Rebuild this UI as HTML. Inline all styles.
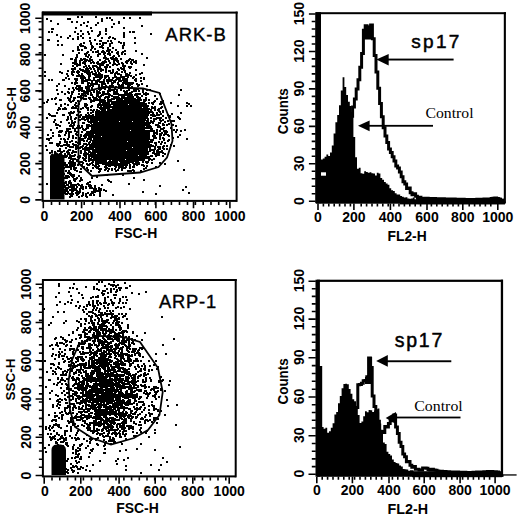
<!DOCTYPE html>
<html><head><meta charset="utf-8"><style>
html,body{margin:0;padding:0;background:#fff;}
svg{display:block;}
</style></head><body>
<svg width="520" height="516" viewBox="0 0 520 516">
<rect width="520" height="516" fill="#fff"/>
<path d="M44 103h0M45 55h0M45 72h0M45 76h0M46 146h0M47 19h0M47 102h0M47 118h0M47 139h0M47 150h0M47 184h0M48 40h0M48 100h0M48 135h0M48 139h0M49 32h0M49 40h0M49 80h0M49 114h0M49 139h0M49 140h0M50 115h0M50 143h0M50 153h0M51 21h0M51 130h0M51 138h0M51 162h0M52 29h0M52 32h0M52 80h0M52 99h0M52 116h0M52 143h0M52 151h0M52 152h0M52 161h0M53 29h0M53 116h0M53 133h0M53 136h0M53 157h0M53 175h0M54 122h0M55 99h0M55 116h0M55 120h0M55 152h0M55 154h0M55 156h0M55 159h0M56 98h0M56 104h0M56 124h0M56 125h0M57 35h0M57 86h0M57 90h0M57 113h0M57 128h0M57 144h0M57 145h0M57 168h0M58 24h0M58 41h0M58 45h0M58 94h0M58 110h0M58 125h0M58 144h0M58 145h0M58 146h0M58 151h0M59 84h0M59 108h0M59 132h0M59 135h0M59 136h0M59 145h0M59 156h0M59 157h0M59 177h0M60 72h0M60 100h0M60 109h0M60 126h0M60 131h0M60 136h0M60 142h0M60 143h0M60 149h0M60 151h0M60 154h0M60 156h0M60 160h0M60 164h0M60 166h0M60 172h0M60 182h0M60 190h0M60 195h0M61 37h0M61 64h0M61 100h0M61 105h0M61 106h0M61 122h0M61 132h0M61 139h0M61 146h0M61 153h0M61 178h0M61 180h0M61 190h0M61 193h0M62 45h0M62 73h0M62 92h0M62 131h0M62 146h0M62 152h0M62 158h0M62 160h0M62 169h0M62 171h0M62 183h0M62 191h0M62 194h0M62 195h0M62 197h0M63 55h0M63 80h0M63 109h0M63 115h0M63 158h0M63 159h0M63 169h0M63 172h0M63 176h0M63 189h0M63 192h0M63 195h0M64 80h0M64 109h0M64 115h0M64 139h0M64 145h0M64 151h0M64 156h0M64 163h0M64 168h0M64 174h0M64 184h0M64 190h0M64 191h0M64 193h0M65 86h0M65 94h0M65 104h0M65 108h0M65 135h0M65 140h0M65 142h0M65 154h0M65 157h0M65 163h0M65 165h0M65 178h0M65 183h0M65 186h0M65 187h0M65 190h0M65 191h0M65 193h0M66 78h0M66 109h0M66 132h0M66 133h0M66 145h0M66 148h0M66 156h0M66 157h0M66 167h0M66 171h0M66 176h0M66 182h0M66 183h0M66 188h0M66 189h0M66 191h0M66 194h0M67 74h0M67 120h0M67 129h0M67 131h0M67 142h0M67 144h0M67 145h0M67 152h0M67 156h0M67 165h0M67 176h0M67 177h0M67 178h0M67 185h0M67 188h0M67 189h0M67 191h0M67 194h0M68 19h0M68 38h0M68 71h0M68 76h0M68 92h0M68 98h0M68 105h0M68 117h0M68 119h0M68 129h0M68 131h0M68 139h0M68 146h0M68 151h0M68 154h0M68 167h0M68 173h0M68 176h0M68 185h0M68 188h0M68 192h0M68 193h0M69 79h0M69 89h0M69 93h0M69 100h0M69 113h0M69 123h0M69 133h0M69 135h0M69 137h0M69 145h0M69 150h0M69 153h0M69 158h0M69 163h0M69 167h0M69 171h0M69 172h0M69 177h0M69 182h0M69 183h0M69 187h0M70 19h0M70 36h0M70 99h0M70 101h0M70 113h0M70 115h0M70 126h0M70 129h0M70 132h0M70 142h0M70 147h0M70 150h0M70 155h0M70 157h0M70 158h0M70 161h0M70 162h0M70 165h0M70 173h0M70 174h0M70 181h0M70 187h0M70 190h0M70 194h0M70 197h0M71 59h0M71 96h0M71 97h0M71 102h0M71 112h0M71 113h0M71 117h0M71 119h0M71 125h0M71 132h0M71 147h0M71 156h0M71 158h0M71 159h0M71 162h0M71 163h0M71 164h0M71 166h0M71 167h0M71 169h0M71 174h0M71 175h0M71 183h0M71 185h0M71 195h0M71 196h0M72 22h0M72 59h0M72 69h0M72 72h0M72 74h0M72 83h0M72 92h0M72 94h0M72 108h0M72 121h0M72 123h0M72 126h0M72 141h0M72 153h0M72 156h0M72 162h0M72 163h0M72 166h0M72 176h0M72 185h0M72 187h0M72 189h0M72 190h0M72 191h0M72 192h0M72 193h0M72 195h0M72 196h0M73 39h0M73 51h0M73 63h0M73 66h0M73 71h0M73 75h0M73 88h0M73 92h0M73 101h0M73 107h0M73 113h0M73 127h0M73 128h0M73 136h0M73 138h0M73 144h0M73 147h0M73 151h0M73 159h0M73 161h0M73 162h0M73 164h0M73 165h0M73 175h0M73 177h0M73 186h0M73 190h0M73 191h0M73 194h0M74 63h0M74 69h0M74 72h0M74 90h0M74 98h0M74 100h0M74 108h0M74 112h0M74 123h0M74 125h0M74 145h0M74 152h0M74 156h0M74 166h0M74 167h0M74 169h0M74 175h0M74 176h0M74 179h0M74 180h0M74 185h0M74 186h0M74 187h0M74 188h0M74 190h0M75 32h0M75 60h0M75 61h0M75 64h0M75 68h0M75 69h0M75 79h0M75 83h0M75 84h0M75 98h0M75 105h0M75 119h0M75 122h0M75 129h0M75 131h0M75 155h0M75 159h0M75 163h0M75 165h0M75 169h0M75 170h0M75 179h0M75 181h0M75 185h0M75 189h0M76 28h0M76 58h0M76 60h0M76 61h0M76 62h0M76 63h0M76 81h0M76 88h0M76 103h0M76 107h0M76 108h0M76 118h0M76 134h0M76 138h0M76 142h0M76 145h0M76 147h0M76 149h0M76 152h0M76 168h0M76 179h0M76 185h0M76 189h0M76 190h0M76 193h0M77 22h0M77 55h0M77 57h0M77 64h0M77 66h0M77 72h0M77 76h0M77 79h0M77 80h0M77 83h0M77 86h0M77 89h0M77 106h0M77 115h0M77 128h0M77 132h0M77 135h0M77 146h0M77 148h0M77 160h0M77 161h0M77 171h0M77 178h0M77 187h0M77 191h0M77 195h0M78 17h0M78 34h0M78 37h0M78 39h0M78 47h0M78 49h0M78 50h0M78 65h0M78 71h0M78 73h0M78 76h0M78 97h0M78 101h0M78 109h0M78 110h0M78 111h0M78 126h0M78 128h0M78 143h0M78 146h0M78 157h0M78 165h0M78 184h0M78 192h0M78 194h0M79 50h0M79 53h0M79 65h0M79 72h0M79 75h0M79 76h0M79 86h0M79 88h0M79 89h0M79 90h0M79 91h0M79 94h0M79 97h0M79 104h0M79 120h0M79 126h0M79 140h0M79 144h0M79 158h0M79 164h0M79 176h0M79 185h0M79 192h0M79 193h0M79 197h0M80 45h0M80 61h0M80 62h0M80 63h0M80 65h0M80 69h0M80 76h0M80 86h0M80 87h0M80 112h0M80 116h0M80 117h0M80 120h0M80 128h0M80 138h0M80 141h0M80 143h0M80 144h0M80 148h0M80 156h0M80 157h0M80 162h0M80 172h0M80 181h0M80 189h0M80 190h0M80 191h0M80 192h0M81 25h0M81 31h0M81 36h0M81 44h0M81 46h0M81 59h0M81 60h0M81 70h0M81 76h0M81 78h0M81 88h0M81 90h0M81 96h0M81 97h0M81 98h0M81 109h0M81 115h0M81 135h0M81 136h0M81 139h0M81 147h0M81 151h0M81 153h0M81 169h0M81 172h0M81 178h0M81 179h0M81 186h0M81 188h0M82 17h0M82 50h0M82 60h0M82 74h0M82 76h0M82 77h0M82 79h0M82 81h0M82 83h0M82 88h0M82 89h0M82 91h0M82 94h0M82 119h0M82 126h0M82 127h0M82 132h0M82 140h0M82 147h0M82 162h0M82 165h0M82 180h0M82 185h0M82 196h0M83 34h0M83 38h0M83 46h0M83 63h0M83 70h0M83 71h0M83 76h0M83 80h0M83 82h0M83 83h0M83 91h0M83 95h0M83 98h0M83 108h0M83 117h0M83 123h0M83 129h0M83 139h0M83 146h0M83 149h0M83 158h0M83 163h0M83 187h0M83 189h0M83 193h0M83 195h0M84 23h0M84 43h0M84 59h0M84 62h0M84 67h0M84 71h0M84 77h0M84 78h0M84 81h0M84 91h0M84 93h0M84 99h0M84 117h0M84 118h0M84 119h0M84 123h0M84 130h0M84 136h0M84 141h0M84 144h0M84 154h0M84 155h0M84 160h0M84 167h0M85 47h0M85 48h0M85 54h0M85 59h0M85 61h0M85 63h0M85 64h0M85 72h0M85 78h0M85 81h0M85 99h0M85 104h0M85 106h0M85 117h0M85 120h0M85 130h0M85 135h0M85 137h0M85 138h0M85 148h0M85 150h0M85 152h0M85 156h0M85 159h0M85 160h0M86 48h0M86 55h0M86 56h0M86 61h0M86 66h0M86 69h0M86 70h0M86 80h0M86 87h0M86 88h0M86 92h0M86 96h0M86 99h0M86 104h0M86 107h0M86 115h0M86 129h0M86 134h0M86 137h0M86 144h0M86 147h0M86 149h0M86 153h0M86 155h0M86 157h0M86 158h0M86 161h0M86 187h0M86 188h0M86 194h0M86 196h0M87 26h0M87 53h0M87 60h0M87 68h0M87 71h0M87 73h0M87 81h0M87 88h0M87 90h0M87 93h0M87 105h0M87 108h0M87 116h0M87 117h0M87 118h0M87 119h0M87 125h0M87 127h0M87 128h0M87 132h0M87 133h0M87 135h0M87 141h0M87 145h0M87 150h0M87 164h0M87 168h0M87 184h0M87 197h0M88 22h0M88 32h0M88 52h0M88 57h0M88 69h0M88 71h0M88 74h0M88 80h0M88 83h0M88 85h0M88 86h0M88 88h0M88 92h0M88 94h0M88 108h0M88 109h0M88 110h0M88 113h0M88 119h0M88 121h0M88 126h0M88 127h0M88 128h0M88 133h0M88 135h0M88 139h0M88 148h0M88 149h0M88 150h0M88 154h0M88 165h0M88 170h0M88 183h0M88 184h0M88 193h0M89 34h0M89 55h0M89 61h0M89 66h0M89 71h0M89 72h0M89 74h0M89 76h0M89 78h0M89 83h0M89 87h0M89 89h0M89 98h0M89 115h0M89 117h0M89 118h0M89 122h0M89 125h0M89 132h0M89 137h0M89 138h0M89 143h0M89 144h0M89 148h0M89 150h0M89 152h0M89 155h0M89 156h0M89 158h0M89 159h0M89 160h0M89 161h0M89 165h0M89 186h0M90 38h0M90 41h0M90 59h0M90 60h0M90 61h0M90 68h0M90 73h0M90 74h0M90 75h0M90 76h0M90 80h0M90 86h0M90 91h0M90 98h0M90 99h0M90 118h0M90 126h0M90 132h0M90 134h0M90 135h0M90 138h0M90 139h0M90 142h0M90 146h0M90 148h0M90 152h0M90 164h0M90 182h0M90 185h0M90 188h0M90 195h0M91 28h0M91 43h0M91 44h0M91 50h0M91 57h0M91 63h0M91 69h0M91 84h0M91 93h0M91 95h0M91 100h0M91 102h0M91 107h0M91 110h0M91 113h0M91 116h0M91 117h0M91 119h0M91 120h0M91 121h0M91 122h0M91 123h0M91 126h0M91 131h0M91 135h0M91 137h0M91 139h0M91 140h0M91 145h0M91 149h0M91 153h0M91 154h0M91 156h0M91 159h0M91 160h0M91 171h0M91 186h0M91 194h0M91 195h0M92 31h0M92 46h0M92 48h0M92 60h0M92 72h0M92 81h0M92 82h0M92 84h0M92 85h0M92 88h0M92 90h0M92 95h0M92 101h0M92 106h0M92 118h0M92 119h0M92 120h0M92 122h0M92 125h0M92 126h0M92 128h0M92 129h0M92 130h0M92 132h0M92 133h0M92 134h0M92 136h0M92 144h0M92 146h0M92 147h0M92 148h0M92 154h0M92 155h0M92 156h0M92 157h0M92 163h0M92 178h0M92 188h0M92 192h0M93 47h0M93 52h0M93 62h0M93 66h0M93 67h0M93 74h0M93 84h0M93 86h0M93 90h0M93 97h0M93 111h0M93 112h0M93 115h0M93 116h0M93 117h0M93 118h0M93 121h0M93 125h0M93 126h0M93 127h0M93 128h0M93 129h0M93 130h0M93 135h0M93 137h0M93 141h0M93 142h0M93 144h0M93 145h0M93 146h0M93 147h0M93 148h0M93 149h0M93 150h0M93 152h0M93 153h0M93 154h0M93 155h0M93 157h0M93 160h0M93 161h0M93 162h0M93 165h0M93 168h0M93 193h0M94 63h0M94 66h0M94 69h0M94 78h0M94 79h0M94 80h0M94 91h0M94 92h0M94 98h0M94 99h0M94 101h0M94 110h0M94 117h0M94 119h0M94 121h0M94 123h0M94 124h0M94 126h0M94 128h0M94 131h0M94 133h0M94 137h0M94 139h0M94 141h0M94 143h0M94 145h0M94 146h0M94 147h0M94 150h0M94 152h0M94 154h0M94 156h0M94 158h0M94 159h0M94 160h0M94 189h0M94 191h0M94 195h0M95 40h0M95 49h0M95 66h0M95 71h0M95 74h0M95 75h0M95 84h0M95 99h0M95 118h0M95 119h0M95 121h0M95 122h0M95 123h0M95 126h0M95 127h0M95 129h0M95 131h0M95 132h0M95 133h0M95 136h0M95 139h0M95 140h0M95 141h0M95 144h0M95 145h0M95 146h0M95 147h0M95 151h0M95 152h0M95 153h0M95 154h0M95 157h0M95 166h0M95 186h0M95 188h0M95 189h0M95 192h0M96 17h0M96 25h0M96 52h0M96 66h0M96 73h0M96 74h0M96 76h0M96 77h0M96 81h0M96 83h0M96 98h0M96 100h0M96 112h0M96 114h0M96 115h0M96 116h0M96 118h0M96 120h0M96 122h0M96 123h0M96 124h0M96 126h0M96 128h0M96 129h0M96 130h0M96 134h0M96 136h0M96 137h0M96 140h0M96 141h0M96 143h0M96 144h0M96 147h0M96 148h0M96 150h0M96 151h0M96 152h0M96 155h0M96 157h0M96 158h0M96 159h0M96 161h0M96 162h0M96 163h0M96 165h0M96 167h0M96 189h0M96 191h0M97 44h0M97 63h0M97 67h0M97 76h0M97 77h0M97 82h0M97 84h0M97 91h0M97 93h0M97 94h0M97 96h0M97 99h0M97 110h0M97 112h0M97 114h0M97 117h0M97 118h0M97 120h0M97 121h0M97 122h0M97 123h0M97 126h0M97 127h0M97 128h0M97 129h0M97 130h0M97 131h0M97 133h0M97 134h0M97 135h0M97 137h0M97 138h0M97 139h0M97 140h0M97 141h0M97 142h0M97 143h0M97 144h0M97 145h0M97 147h0M97 148h0M97 149h0M97 151h0M97 152h0M97 157h0M97 160h0M97 161h0M97 162h0M97 163h0M97 168h0M97 177h0M97 191h0M98 23h0M98 36h0M98 51h0M98 52h0M98 55h0M98 56h0M98 62h0M98 64h0M98 68h0M98 69h0M98 70h0M98 71h0M98 75h0M98 76h0M98 77h0M98 80h0M98 94h0M98 96h0M98 100h0M98 105h0M98 107h0M98 115h0M98 116h0M98 117h0M98 119h0M98 120h0M98 123h0M98 124h0M98 126h0M98 127h0M98 128h0M98 129h0M98 130h0M98 131h0M98 134h0M98 135h0M98 136h0M98 139h0M98 140h0M98 143h0M98 144h0M98 145h0M98 147h0M98 149h0M98 151h0M98 152h0M98 153h0M98 154h0M98 155h0M98 156h0M98 157h0M98 158h0M98 159h0M98 160h0M98 163h0M98 164h0M98 167h0M98 191h0M99 35h0M99 54h0M99 68h0M99 73h0M99 80h0M99 81h0M99 85h0M99 87h0M99 88h0M99 89h0M99 92h0M99 97h0M99 104h0M99 111h0M99 112h0M99 113h0M99 114h0M99 115h0M99 116h0M99 117h0M99 118h0M99 120h0M99 123h0M99 124h0M99 127h0M99 128h0M99 129h0M99 131h0M99 133h0M99 134h0M99 136h0M99 137h0M99 138h0M99 139h0M99 141h0M99 142h0M99 143h0M99 144h0M99 145h0M99 146h0M99 147h0M99 148h0M99 149h0M99 150h0M99 152h0M99 153h0M99 154h0M99 156h0M99 157h0M99 158h0M99 159h0M99 161h0M99 163h0M99 166h0M99 169h0M99 172h0M99 188h0M99 189h0M100 32h0M100 34h0M100 41h0M100 44h0M100 47h0M100 54h0M100 60h0M100 64h0M100 66h0M100 67h0M100 69h0M100 74h0M100 75h0M100 77h0M100 79h0M100 82h0M100 89h0M100 90h0M100 93h0M100 98h0M100 99h0M100 100h0M100 101h0M100 103h0M100 104h0M100 105h0M100 108h0M100 112h0M100 113h0M100 114h0M100 116h0M100 117h0M100 120h0M100 121h0M100 122h0M100 125h0M100 126h0M100 127h0M100 128h0M100 129h0M100 130h0M100 131h0M100 132h0M100 133h0M100 134h0M100 135h0M100 137h0M100 139h0M100 141h0M100 142h0M100 143h0M100 148h0M100 149h0M100 150h0M100 151h0M100 152h0M100 153h0M100 154h0M100 156h0M100 158h0M100 160h0M100 161h0M100 162h0M100 171h0M100 191h0M100 192h0M100 194h0M100 196h0M101 41h0M101 47h0M101 64h0M101 69h0M101 70h0M101 71h0M101 76h0M101 78h0M101 82h0M101 89h0M101 96h0M101 100h0M101 105h0M101 107h0M101 109h0M101 112h0M101 113h0M101 114h0M101 115h0M101 117h0M101 118h0M101 119h0M101 120h0M101 121h0M101 123h0M101 124h0M101 125h0M101 127h0M101 128h0M101 129h0M101 132h0M101 134h0M101 139h0M101 140h0M101 141h0M101 142h0M101 143h0M101 144h0M101 145h0M101 146h0M101 147h0M101 149h0M101 150h0M101 151h0M101 152h0M101 153h0M101 154h0M101 156h0M101 157h0M101 158h0M101 159h0M101 161h0M101 163h0M101 169h0M101 189h0M101 190h0M102 19h0M102 21h0M102 38h0M102 46h0M102 47h0M102 52h0M102 63h0M102 65h0M102 75h0M102 77h0M102 82h0M102 84h0M102 86h0M102 95h0M102 102h0M102 105h0M102 109h0M102 111h0M102 112h0M102 113h0M102 114h0M102 115h0M102 116h0M102 117h0M102 119h0M102 120h0M102 121h0M102 122h0M102 123h0M102 124h0M102 125h0M102 126h0M102 127h0M102 128h0M102 129h0M102 130h0M102 131h0M102 132h0M102 133h0M102 134h0M102 135h0M102 138h0M102 139h0M102 140h0M102 142h0M102 143h0M102 144h0M102 145h0M102 146h0M102 147h0M102 151h0M102 152h0M102 153h0M102 155h0M102 157h0M102 158h0M102 159h0M102 162h0M102 185h0M103 43h0M103 45h0M103 48h0M103 51h0M103 62h0M103 65h0M103 70h0M103 88h0M103 92h0M103 94h0M103 95h0M103 100h0M103 102h0M103 103h0M103 105h0M103 108h0M103 109h0M103 111h0M103 112h0M103 113h0M103 114h0M103 115h0M103 117h0M103 119h0M103 122h0M103 124h0M103 125h0M103 126h0M103 128h0M103 130h0M103 132h0M103 134h0M103 135h0M103 137h0M103 138h0M103 139h0M103 140h0M103 142h0M103 143h0M103 146h0M103 147h0M103 149h0M103 150h0M103 152h0M103 153h0M103 155h0M103 156h0M103 157h0M103 158h0M103 159h0M103 160h0M103 164h0M104 43h0M104 52h0M104 54h0M104 58h0M104 63h0M104 80h0M104 81h0M104 83h0M104 84h0M104 87h0M104 92h0M104 100h0M104 102h0M104 103h0M104 105h0M104 106h0M104 107h0M104 109h0M104 111h0M104 112h0M104 113h0M104 115h0M104 116h0M104 117h0M104 118h0M104 119h0M104 121h0M104 122h0M104 123h0M104 124h0M104 125h0M104 127h0M104 128h0M104 132h0M104 134h0M104 135h0M104 136h0M104 137h0M104 138h0M104 139h0M104 140h0M104 142h0M104 143h0M104 144h0M104 145h0M104 146h0M104 147h0M104 148h0M104 149h0M104 151h0M104 152h0M104 154h0M104 157h0M104 158h0M104 160h0M104 162h0M104 190h0M105 53h0M105 56h0M105 57h0M105 61h0M105 67h0M105 76h0M105 78h0M105 84h0M105 89h0M105 94h0M105 98h0M105 101h0M105 102h0M105 103h0M105 104h0M105 105h0M105 106h0M105 107h0M105 108h0M105 110h0M105 112h0M105 113h0M105 114h0M105 115h0M105 116h0M105 120h0M105 121h0M105 122h0M105 124h0M105 129h0M105 131h0M105 132h0M105 133h0M105 134h0M105 135h0M105 136h0M105 138h0M105 139h0M105 141h0M105 142h0M105 143h0M105 144h0M105 145h0M105 146h0M105 147h0M105 148h0M105 150h0M105 151h0M105 152h0M105 153h0M105 154h0M105 155h0M105 156h0M105 157h0M105 158h0M105 159h0M105 160h0M105 163h0M105 164h0M105 167h0M105 170h0M106 29h0M106 31h0M106 34h0M106 43h0M106 58h0M106 59h0M106 62h0M106 67h0M106 69h0M106 71h0M106 72h0M106 77h0M106 86h0M106 97h0M106 103h0M106 106h0M106 107h0M106 108h0M106 112h0M106 113h0M106 114h0M106 116h0M106 117h0M106 118h0M106 119h0M106 120h0M106 121h0M106 123h0M106 125h0M106 126h0M106 127h0M106 128h0M106 129h0M106 132h0M106 133h0M106 135h0M106 137h0M106 138h0M106 139h0M106 140h0M106 141h0M106 142h0M106 143h0M106 144h0M106 145h0M106 146h0M106 148h0M106 151h0M106 152h0M106 155h0M106 156h0M106 157h0M106 159h0M106 160h0M106 161h0M106 162h0M106 163h0M106 165h0M106 166h0M106 169h0M106 191h0M107 18h0M107 51h0M107 65h0M107 67h0M107 76h0M107 80h0M107 81h0M107 94h0M107 97h0M107 103h0M107 104h0M107 105h0M107 107h0M107 108h0M107 112h0M107 113h0M107 114h0M107 117h0M107 118h0M107 119h0M107 122h0M107 123h0M107 124h0M107 125h0M107 126h0M107 128h0M107 130h0M107 131h0M107 132h0M107 133h0M107 134h0M107 135h0M107 137h0M107 138h0M107 139h0M107 140h0M107 141h0M107 142h0M107 143h0M107 144h0M107 145h0M107 146h0M107 147h0M107 148h0M107 149h0M107 151h0M107 152h0M107 153h0M107 156h0M107 158h0M107 159h0M107 163h0M107 164h0M107 165h0M107 168h0M107 175h0M108 41h0M108 48h0M108 50h0M108 54h0M108 59h0M108 65h0M108 76h0M108 83h0M108 91h0M108 93h0M108 94h0M108 99h0M108 101h0M108 102h0M108 104h0M108 106h0M108 107h0M108 108h0M108 110h0M108 113h0M108 114h0M108 115h0M108 116h0M108 117h0M108 118h0M108 119h0M108 120h0M108 122h0M108 123h0M108 125h0M108 126h0M108 127h0M108 128h0M108 129h0M108 130h0M108 131h0M108 132h0M108 133h0M108 134h0M108 135h0M108 136h0M108 137h0M108 140h0M108 141h0M108 142h0M108 143h0M108 145h0M108 146h0M108 148h0M108 150h0M108 151h0M108 153h0M108 155h0M108 156h0M108 158h0M108 159h0M108 163h0M108 164h0M108 165h0M108 171h0M108 180h0M109 38h0M109 52h0M109 53h0M109 61h0M109 71h0M109 78h0M109 80h0M109 81h0M109 89h0M109 94h0M109 95h0M109 97h0M109 102h0M109 103h0M109 104h0M109 105h0M109 106h0M109 107h0M109 108h0M109 109h0M109 110h0M109 111h0M109 112h0M109 113h0M109 115h0M109 116h0M109 117h0M109 119h0M109 120h0M109 122h0M109 123h0M109 127h0M109 128h0M109 130h0M109 131h0M109 132h0M109 134h0M109 135h0M109 137h0M109 139h0M109 143h0M109 146h0M109 147h0M109 148h0M109 149h0M109 150h0M109 151h0M109 153h0M109 154h0M109 155h0M109 156h0M109 158h0M109 159h0M109 162h0M109 164h0M109 166h0M109 169h0M109 181h0M110 18h0M110 37h0M110 44h0M110 45h0M110 46h0M110 50h0M110 54h0M110 55h0M110 63h0M110 67h0M110 71h0M110 80h0M110 86h0M110 87h0M110 89h0M110 91h0M110 95h0M110 100h0M110 105h0M110 106h0M110 110h0M110 113h0M110 114h0M110 115h0M110 117h0M110 120h0M110 121h0M110 122h0M110 123h0M110 124h0M110 126h0M110 127h0M110 128h0M110 130h0M110 131h0M110 132h0M110 135h0M110 136h0M110 137h0M110 139h0M110 140h0M110 141h0M110 142h0M110 144h0M110 145h0M110 146h0M110 147h0M110 148h0M110 149h0M110 150h0M110 151h0M110 152h0M110 154h0M110 155h0M110 156h0M110 157h0M110 160h0M110 161h0M110 164h0M110 166h0M111 41h0M111 58h0M111 73h0M111 81h0M111 87h0M111 90h0M111 101h0M111 107h0M111 110h0M111 111h0M111 112h0M111 115h0M111 116h0M111 118h0M111 119h0M111 121h0M111 122h0M111 123h0M111 124h0M111 125h0M111 126h0M111 128h0M111 129h0M111 130h0M111 131h0M111 132h0M111 133h0M111 135h0M111 136h0M111 137h0M111 138h0M111 139h0M111 140h0M111 141h0M111 142h0M111 143h0M111 144h0M111 146h0M111 147h0M111 149h0M111 150h0M111 151h0M111 152h0M111 153h0M111 155h0M111 156h0M111 159h0M111 162h0M111 163h0M111 164h0M111 182h0M112 20h0M112 27h0M112 43h0M112 52h0M112 59h0M112 73h0M112 80h0M112 83h0M112 85h0M112 87h0M112 96h0M112 99h0M112 102h0M112 103h0M112 104h0M112 107h0M112 110h0M112 111h0M112 113h0M112 114h0M112 116h0M112 118h0M112 119h0M112 120h0M112 122h0M112 123h0M112 124h0M112 127h0M112 129h0M112 130h0M112 131h0M112 132h0M112 133h0M112 134h0M112 135h0M112 136h0M112 137h0M112 138h0M112 140h0M112 141h0M112 142h0M112 143h0M112 144h0M112 146h0M112 148h0M112 149h0M112 150h0M112 151h0M112 152h0M112 153h0M112 154h0M112 155h0M112 156h0M112 157h0M112 158h0M112 162h0M112 163h0M112 165h0M112 169h0M112 170h0M113 38h0M113 48h0M113 57h0M113 65h0M113 70h0M113 72h0M113 78h0M113 83h0M113 86h0M113 90h0M113 102h0M113 107h0M113 108h0M113 109h0M113 110h0M113 111h0M113 112h0M113 113h0M113 116h0M113 117h0M113 118h0M113 119h0M113 120h0M113 121h0M113 124h0M113 125h0M113 126h0M113 129h0M113 130h0M113 132h0M113 133h0M113 135h0M113 137h0M113 138h0M113 141h0M113 142h0M113 147h0M113 148h0M113 150h0M113 151h0M113 152h0M113 153h0M113 156h0M113 158h0M113 160h0M113 161h0M113 162h0M113 163h0M113 164h0M113 165h0M113 195h0M114 24h0M114 56h0M114 59h0M114 61h0M114 63h0M114 64h0M114 81h0M114 91h0M114 92h0M114 94h0M114 97h0M114 99h0M114 103h0M114 104h0M114 105h0M114 108h0M114 109h0M114 110h0M114 111h0M114 112h0M114 113h0M114 114h0M114 115h0M114 116h0M114 118h0M114 120h0M114 121h0M114 122h0M114 123h0M114 124h0M114 126h0M114 127h0M114 128h0M114 129h0M114 130h0M114 131h0M114 133h0M114 134h0M114 135h0M114 136h0M114 137h0M114 138h0M114 139h0M114 140h0M114 142h0M114 143h0M114 144h0M114 145h0M114 146h0M114 147h0M114 149h0M114 151h0M114 152h0M114 153h0M114 155h0M114 156h0M114 157h0M114 159h0M114 160h0M114 161h0M114 162h0M114 163h0M114 164h0M115 39h0M115 60h0M115 64h0M115 74h0M115 75h0M115 76h0M115 77h0M115 81h0M115 82h0M115 89h0M115 92h0M115 98h0M115 102h0M115 104h0M115 105h0M115 107h0M115 108h0M115 109h0M115 110h0M115 111h0M115 112h0M115 114h0M115 116h0M115 117h0M115 118h0M115 119h0M115 120h0M115 121h0M115 122h0M115 123h0M115 124h0M115 125h0M115 127h0M115 128h0M115 130h0M115 132h0M115 133h0M115 134h0M115 135h0M115 136h0M115 137h0M115 138h0M115 139h0M115 140h0M115 143h0M115 144h0M115 145h0M115 146h0M115 147h0M115 148h0M115 150h0M115 151h0M115 152h0M115 153h0M115 155h0M115 157h0M115 158h0M115 159h0M115 161h0M115 163h0M115 166h0M115 169h0M116 50h0M116 58h0M116 59h0M116 73h0M116 77h0M116 80h0M116 87h0M116 94h0M116 97h0M116 98h0M116 105h0M116 106h0M116 107h0M116 108h0M116 109h0M116 110h0M116 111h0M116 112h0M116 113h0M116 114h0M116 115h0M116 116h0M116 117h0M116 118h0M116 119h0M116 120h0M116 121h0M116 122h0M116 123h0M116 124h0M116 127h0M116 128h0M116 130h0M116 131h0M116 132h0M116 133h0M116 134h0M116 137h0M116 140h0M116 141h0M116 142h0M116 144h0M116 146h0M116 148h0M116 152h0M116 153h0M116 154h0M116 155h0M116 158h0M116 160h0M116 161h0M116 162h0M116 163h0M116 164h0M116 165h0M116 167h0M116 171h0M117 53h0M117 59h0M117 61h0M117 65h0M117 72h0M117 78h0M117 79h0M117 90h0M117 91h0M117 93h0M117 100h0M117 101h0M117 103h0M117 107h0M117 109h0M117 110h0M117 111h0M117 112h0M117 113h0M117 114h0M117 115h0M117 116h0M117 117h0M117 119h0M117 120h0M117 121h0M117 122h0M117 124h0M117 126h0M117 127h0M117 128h0M117 129h0M117 130h0M117 133h0M117 134h0M117 135h0M117 136h0M117 137h0M117 138h0M117 139h0M117 140h0M117 141h0M117 145h0M117 147h0M117 149h0M117 151h0M117 153h0M117 154h0M117 156h0M117 157h0M117 160h0M117 161h0M117 163h0M117 164h0M117 165h0M118 52h0M118 54h0M118 61h0M118 62h0M118 69h0M118 74h0M118 83h0M118 84h0M118 94h0M118 97h0M118 98h0M118 99h0M118 100h0M118 101h0M118 102h0M118 103h0M118 104h0M118 106h0M118 107h0M118 108h0M118 109h0M118 111h0M118 112h0M118 114h0M118 115h0M118 116h0M118 119h0M118 120h0M118 122h0M118 123h0M118 125h0M118 126h0M118 128h0M118 129h0M118 131h0M118 132h0M118 133h0M118 134h0M118 135h0M118 137h0M118 139h0M118 140h0M118 141h0M118 142h0M118 143h0M118 144h0M118 145h0M118 146h0M118 147h0M118 150h0M118 151h0M118 152h0M118 153h0M118 154h0M118 157h0M118 159h0M118 160h0M118 164h0M118 165h0M118 170h0M119 22h0M119 23h0M119 42h0M119 56h0M119 64h0M119 70h0M119 74h0M119 78h0M119 79h0M119 80h0M119 81h0M119 85h0M119 86h0M119 88h0M119 95h0M119 98h0M119 101h0M119 102h0M119 103h0M119 104h0M119 105h0M119 106h0M119 107h0M119 108h0M119 109h0M119 110h0M119 111h0M119 112h0M119 113h0M119 114h0M119 115h0M119 117h0M119 118h0M119 120h0M119 123h0M119 125h0M119 126h0M119 128h0M119 129h0M119 130h0M119 132h0M119 134h0M119 135h0M119 136h0M119 137h0M119 138h0M119 139h0M119 141h0M119 142h0M119 146h0M119 147h0M119 148h0M119 149h0M119 150h0M119 152h0M119 155h0M119 156h0M119 158h0M119 159h0M119 166h0M119 168h0M120 78h0M120 79h0M120 95h0M120 99h0M120 100h0M120 102h0M120 103h0M120 104h0M120 107h0M120 108h0M120 110h0M120 111h0M120 112h0M120 116h0M120 118h0M120 120h0M120 123h0M120 124h0M120 126h0M120 127h0M120 128h0M120 129h0M120 131h0M120 132h0M120 133h0M120 134h0M120 135h0M120 139h0M120 141h0M120 142h0M120 143h0M120 144h0M120 145h0M120 149h0M120 150h0M120 153h0M120 154h0M120 155h0M120 157h0M120 159h0M120 160h0M120 161h0M120 164h0M120 165h0M120 167h0M121 43h0M121 59h0M121 68h0M121 75h0M121 76h0M121 81h0M121 86h0M121 87h0M121 88h0M121 89h0M121 90h0M121 95h0M121 99h0M121 100h0M121 102h0M121 104h0M121 105h0M121 106h0M121 107h0M121 109h0M121 110h0M121 111h0M121 112h0M121 114h0M121 115h0M121 116h0M121 119h0M121 120h0M121 121h0M121 122h0M121 126h0M121 127h0M121 128h0M121 130h0M121 131h0M121 134h0M121 135h0M121 137h0M121 138h0M121 140h0M121 142h0M121 143h0M121 144h0M121 145h0M121 146h0M121 147h0M121 148h0M121 149h0M121 150h0M121 151h0M121 152h0M121 154h0M121 156h0M121 157h0M121 159h0M121 160h0M121 161h0M121 162h0M121 164h0M121 165h0M121 167h0M122 53h0M122 54h0M122 63h0M122 69h0M122 72h0M122 77h0M122 85h0M122 86h0M122 87h0M122 88h0M122 95h0M122 97h0M122 98h0M122 99h0M122 100h0M122 102h0M122 104h0M122 108h0M122 109h0M122 110h0M122 111h0M122 112h0M122 114h0M122 115h0M122 116h0M122 117h0M122 120h0M122 122h0M122 123h0M122 124h0M122 125h0M122 126h0M122 128h0M122 129h0M122 130h0M122 131h0M122 132h0M122 133h0M122 135h0M122 139h0M122 140h0M122 141h0M122 142h0M122 145h0M122 147h0M122 148h0M122 149h0M122 150h0M122 151h0M122 152h0M122 153h0M122 154h0M122 155h0M122 156h0M122 157h0M122 158h0M122 159h0M122 160h0M122 162h0M122 163h0M122 165h0M122 167h0M122 168h0M122 170h0M123 46h0M123 48h0M123 52h0M123 64h0M123 66h0M123 77h0M123 78h0M123 80h0M123 83h0M123 85h0M123 87h0M123 88h0M123 98h0M123 104h0M123 106h0M123 107h0M123 110h0M123 111h0M123 112h0M123 114h0M123 117h0M123 118h0M123 119h0M123 120h0M123 121h0M123 122h0M123 123h0M123 124h0M123 126h0M123 129h0M123 133h0M123 134h0M123 135h0M123 136h0M123 137h0M123 138h0M123 140h0M123 141h0M123 142h0M123 143h0M123 145h0M123 146h0M123 147h0M123 148h0M123 149h0M123 150h0M123 151h0M123 153h0M123 154h0M123 155h0M123 156h0M123 157h0M123 158h0M123 159h0M123 160h0M123 161h0M123 163h0M123 164h0M123 165h0M123 166h0M123 168h0M123 175h0M124 18h0M124 28h0M124 33h0M124 35h0M124 37h0M124 43h0M124 45h0M124 67h0M124 69h0M124 70h0M124 77h0M124 81h0M124 83h0M124 91h0M124 95h0M124 96h0M124 98h0M124 101h0M124 103h0M124 105h0M124 106h0M124 107h0M124 108h0M124 110h0M124 111h0M124 113h0M124 114h0M124 116h0M124 117h0M124 118h0M124 119h0M124 120h0M124 121h0M124 122h0M124 123h0M124 124h0M124 126h0M124 127h0M124 128h0M124 129h0M124 130h0M124 132h0M124 133h0M124 134h0M124 135h0M124 136h0M124 137h0M124 138h0M124 139h0M124 140h0M124 141h0M124 142h0M124 143h0M124 145h0M124 146h0M124 149h0M124 150h0M124 151h0M124 152h0M124 154h0M124 155h0M124 156h0M124 157h0M124 158h0M124 159h0M124 162h0M124 165h0M125 51h0M125 54h0M125 66h0M125 71h0M125 72h0M125 79h0M125 80h0M125 82h0M125 83h0M125 92h0M125 94h0M125 95h0M125 98h0M125 100h0M125 103h0M125 104h0M125 109h0M125 110h0M125 111h0M125 113h0M125 114h0M125 115h0M125 116h0M125 117h0M125 118h0M125 119h0M125 121h0M125 123h0M125 124h0M125 126h0M125 127h0M125 128h0M125 129h0M125 130h0M125 131h0M125 132h0M125 135h0M125 136h0M125 138h0M125 139h0M125 140h0M125 141h0M125 143h0M125 145h0M125 147h0M125 148h0M125 150h0M125 151h0M125 152h0M125 153h0M125 155h0M125 156h0M125 157h0M125 158h0M125 161h0M125 163h0M125 164h0M125 165h0M125 168h0M126 62h0M126 74h0M126 76h0M126 84h0M126 95h0M126 98h0M126 101h0M126 103h0M126 104h0M126 106h0M126 107h0M126 108h0M126 110h0M126 111h0M126 112h0M126 113h0M126 114h0M126 115h0M126 116h0M126 117h0M126 118h0M126 119h0M126 120h0M126 122h0M126 123h0M126 126h0M126 128h0M126 129h0M126 130h0M126 131h0M126 132h0M126 133h0M126 134h0M126 135h0M126 136h0M126 137h0M126 138h0M126 139h0M126 140h0M126 141h0M126 142h0M126 143h0M126 144h0M126 145h0M126 146h0M126 147h0M126 149h0M126 152h0M126 153h0M126 155h0M126 156h0M126 157h0M126 158h0M126 162h0M126 167h0M127 61h0M127 63h0M127 74h0M127 79h0M127 81h0M127 82h0M127 83h0M127 84h0M127 91h0M127 93h0M127 98h0M127 99h0M127 101h0M127 102h0M127 104h0M127 107h0M127 108h0M127 109h0M127 110h0M127 112h0M127 113h0M127 116h0M127 117h0M127 119h0M127 121h0M127 122h0M127 123h0M127 124h0M127 125h0M127 126h0M127 127h0M127 128h0M127 129h0M127 131h0M127 132h0M127 133h0M127 135h0M127 136h0M127 137h0M127 139h0M127 140h0M127 143h0M127 144h0M127 145h0M127 146h0M127 147h0M127 148h0M127 149h0M127 152h0M127 153h0M127 156h0M127 157h0M127 158h0M127 159h0M127 160h0M127 164h0M127 165h0M128 61h0M128 76h0M128 77h0M128 84h0M128 86h0M128 88h0M128 94h0M128 95h0M128 97h0M128 99h0M128 106h0M128 107h0M128 108h0M128 109h0M128 110h0M128 111h0M128 112h0M128 113h0M128 114h0M128 115h0M128 116h0M128 117h0M128 119h0M128 120h0M128 122h0M128 123h0M128 124h0M128 125h0M128 126h0M128 128h0M128 129h0M128 130h0M128 131h0M128 133h0M128 134h0M128 135h0M128 137h0M128 138h0M128 140h0M128 143h0M128 146h0M128 147h0M128 148h0M128 150h0M128 151h0M128 152h0M128 154h0M128 155h0M128 156h0M128 157h0M128 159h0M128 160h0M128 161h0M128 163h0M128 171h0M129 60h0M129 67h0M129 75h0M129 83h0M129 86h0M129 90h0M129 95h0M129 97h0M129 99h0M129 101h0M129 102h0M129 103h0M129 106h0M129 107h0M129 108h0M129 109h0M129 110h0M129 111h0M129 112h0M129 113h0M129 116h0M129 117h0M129 119h0M129 122h0M129 123h0M129 125h0M129 129h0M129 130h0M129 133h0M129 136h0M129 137h0M129 139h0M129 141h0M129 142h0M129 143h0M129 145h0M129 146h0M129 148h0M129 149h0M129 151h0M129 152h0M129 153h0M129 154h0M129 157h0M129 159h0M129 160h0M129 161h0M129 163h0M129 184h0M130 18h0M130 32h0M130 59h0M130 68h0M130 73h0M130 83h0M130 85h0M130 93h0M130 94h0M130 95h0M130 98h0M130 99h0M130 100h0M130 101h0M130 102h0M130 103h0M130 104h0M130 105h0M130 110h0M130 111h0M130 112h0M130 113h0M130 114h0M130 115h0M130 117h0M130 119h0M130 120h0M130 122h0M130 123h0M130 124h0M130 126h0M130 127h0M130 128h0M130 129h0M130 132h0M130 135h0M130 137h0M130 138h0M130 139h0M130 140h0M130 141h0M130 143h0M130 144h0M130 145h0M130 146h0M130 147h0M130 148h0M130 151h0M130 152h0M130 155h0M130 156h0M130 158h0M130 159h0M130 161h0M130 162h0M130 165h0M130 166h0M130 168h0M130 171h0M131 62h0M131 63h0M131 67h0M131 76h0M131 94h0M131 96h0M131 98h0M131 100h0M131 101h0M131 102h0M131 104h0M131 105h0M131 106h0M131 107h0M131 108h0M131 109h0M131 110h0M131 111h0M131 112h0M131 113h0M131 114h0M131 116h0M131 117h0M131 119h0M131 120h0M131 122h0M131 124h0M131 128h0M131 129h0M131 132h0M131 133h0M131 134h0M131 135h0M131 136h0M131 137h0M131 138h0M131 140h0M131 143h0M131 144h0M131 145h0M131 147h0M131 149h0M131 151h0M131 152h0M131 153h0M131 155h0M131 156h0M131 157h0M131 158h0M131 160h0M131 161h0M131 162h0M131 171h0M132 60h0M132 64h0M132 83h0M132 84h0M132 87h0M132 92h0M132 95h0M132 97h0M132 98h0M132 99h0M132 101h0M132 102h0M132 103h0M132 104h0M132 108h0M132 109h0M132 110h0M132 111h0M132 112h0M132 114h0M132 115h0M132 116h0M132 117h0M132 119h0M132 120h0M132 123h0M132 124h0M132 125h0M132 126h0M132 127h0M132 128h0M132 129h0M132 131h0M132 134h0M132 135h0M132 136h0M132 140h0M132 141h0M132 142h0M132 143h0M132 144h0M132 145h0M132 146h0M132 149h0M132 150h0M132 152h0M132 154h0M132 155h0M132 156h0M132 158h0M132 159h0M132 162h0M133 32h0M133 60h0M133 78h0M133 83h0M133 97h0M133 99h0M133 101h0M133 102h0M133 106h0M133 109h0M133 111h0M133 112h0M133 113h0M133 114h0M133 115h0M133 116h0M133 117h0M133 120h0M133 123h0M133 124h0M133 125h0M133 126h0M133 129h0M133 130h0M133 132h0M133 133h0M133 134h0M133 135h0M133 136h0M133 137h0M133 138h0M133 139h0M133 140h0M133 141h0M133 142h0M133 143h0M133 145h0M133 146h0M133 150h0M133 153h0M133 154h0M133 155h0M133 156h0M133 157h0M133 158h0M133 159h0M133 161h0M133 163h0M133 167h0M133 170h0M134 32h0M134 62h0M134 77h0M134 90h0M134 91h0M134 100h0M134 102h0M134 104h0M134 105h0M134 106h0M134 108h0M134 110h0M134 111h0M134 112h0M134 114h0M134 115h0M134 117h0M134 118h0M134 120h0M134 122h0M134 123h0M134 124h0M134 126h0M134 127h0M134 128h0M134 129h0M134 130h0M134 131h0M134 132h0M134 133h0M134 135h0M134 136h0M134 137h0M134 138h0M134 140h0M134 141h0M134 142h0M134 143h0M134 144h0M134 145h0M134 147h0M134 148h0M134 149h0M134 150h0M134 151h0M134 152h0M134 153h0M134 154h0M134 155h0M134 157h0M134 158h0M134 159h0M134 160h0M134 161h0M134 164h0M134 165h0M134 167h0M134 171h0M134 178h0M135 38h0M135 43h0M135 80h0M135 90h0M135 95h0M135 99h0M135 101h0M135 102h0M135 103h0M135 105h0M135 106h0M135 107h0M135 108h0M135 109h0M135 110h0M135 111h0M135 113h0M135 114h0M135 115h0M135 116h0M135 117h0M135 118h0M135 119h0M135 124h0M135 125h0M135 127h0M135 128h0M135 129h0M135 131h0M135 132h0M135 135h0M135 136h0M135 138h0M135 139h0M135 141h0M135 143h0M135 144h0M135 145h0M135 146h0M135 147h0M135 148h0M135 149h0M135 150h0M135 151h0M135 154h0M135 155h0M135 156h0M135 157h0M135 158h0M135 161h0M136 51h0M136 61h0M136 63h0M136 70h0M136 75h0M136 79h0M136 80h0M136 81h0M136 90h0M136 91h0M136 94h0M136 100h0M136 101h0M136 102h0M136 103h0M136 104h0M136 105h0M136 107h0M136 108h0M136 110h0M136 113h0M136 114h0M136 116h0M136 118h0M136 119h0M136 120h0M136 121h0M136 122h0M136 124h0M136 125h0M136 126h0M136 127h0M136 129h0M136 130h0M136 131h0M136 132h0M136 133h0M136 135h0M136 136h0M136 137h0M136 138h0M136 141h0M136 142h0M136 144h0M136 146h0M136 147h0M136 151h0M136 152h0M136 153h0M136 156h0M136 157h0M136 159h0M136 160h0M136 162h0M136 164h0M137 84h0M137 95h0M137 97h0M137 101h0M137 102h0M137 105h0M137 106h0M137 107h0M137 108h0M137 109h0M137 111h0M137 113h0M137 114h0M137 115h0M137 118h0M137 120h0M137 121h0M137 122h0M137 124h0M137 126h0M137 127h0M137 130h0M137 132h0M137 134h0M137 136h0M137 137h0M137 138h0M137 139h0M137 140h0M137 141h0M137 142h0M137 143h0M137 145h0M137 146h0M137 147h0M137 148h0M137 149h0M137 150h0M137 152h0M137 153h0M137 155h0M137 156h0M137 157h0M137 159h0M137 162h0M137 164h0M137 165h0M138 86h0M138 89h0M138 94h0M138 97h0M138 99h0M138 101h0M138 102h0M138 103h0M138 104h0M138 105h0M138 106h0M138 107h0M138 109h0M138 110h0M138 111h0M138 112h0M138 113h0M138 115h0M138 116h0M138 117h0M138 118h0M138 119h0M138 120h0M138 124h0M138 127h0M138 129h0M138 131h0M138 132h0M138 133h0M138 134h0M138 135h0M138 137h0M138 138h0M138 139h0M138 140h0M138 141h0M138 144h0M138 145h0M138 147h0M138 148h0M138 150h0M138 151h0M138 152h0M138 153h0M138 154h0M138 157h0M138 158h0M138 159h0M138 160h0M138 161h0M138 163h0M139 85h0M139 91h0M139 101h0M139 102h0M139 103h0M139 104h0M139 105h0M139 107h0M139 108h0M139 109h0M139 111h0M139 112h0M139 114h0M139 115h0M139 116h0M139 117h0M139 118h0M139 120h0M139 121h0M139 122h0M139 123h0M139 124h0M139 125h0M139 126h0M139 127h0M139 130h0M139 132h0M139 135h0M139 136h0M139 137h0M139 138h0M139 140h0M139 141h0M139 142h0M139 143h0M139 145h0M139 146h0M139 148h0M139 149h0M139 150h0M139 153h0M139 154h0M139 157h0M139 158h0M139 160h0M139 163h0M139 164h0M140 18h0M140 74h0M140 94h0M140 98h0M140 100h0M140 103h0M140 104h0M140 106h0M140 107h0M140 108h0M140 109h0M140 110h0M140 112h0M140 113h0M140 115h0M140 116h0M140 117h0M140 119h0M140 120h0M140 122h0M140 123h0M140 124h0M140 125h0M140 126h0M140 127h0M140 128h0M140 129h0M140 130h0M140 131h0M140 132h0M140 133h0M140 136h0M140 141h0M140 143h0M140 144h0M140 145h0M140 146h0M140 148h0M140 150h0M140 151h0M140 152h0M140 154h0M140 155h0M140 156h0M140 157h0M140 160h0M141 78h0M141 81h0M141 100h0M141 103h0M141 104h0M141 107h0M141 109h0M141 110h0M141 111h0M141 112h0M141 113h0M141 114h0M141 115h0M141 119h0M141 120h0M141 123h0M141 125h0M141 127h0M141 128h0M141 129h0M141 130h0M141 131h0M141 132h0M141 133h0M141 134h0M141 135h0M141 136h0M141 137h0M141 138h0M141 139h0M141 140h0M141 141h0M141 144h0M141 145h0M141 146h0M141 148h0M141 149h0M141 150h0M141 155h0M141 156h0M141 157h0M141 158h0M141 160h0M141 171h0M142 26h0M142 54h0M142 73h0M142 84h0M142 96h0M142 105h0M142 106h0M142 109h0M142 110h0M142 111h0M142 112h0M142 113h0M142 115h0M142 117h0M142 118h0M142 121h0M142 123h0M142 124h0M142 125h0M142 126h0M142 127h0M142 128h0M142 129h0M142 130h0M142 131h0M142 132h0M142 134h0M142 135h0M142 136h0M142 137h0M142 138h0M142 139h0M142 140h0M142 141h0M142 142h0M142 143h0M142 144h0M142 145h0M142 148h0M142 149h0M142 150h0M142 152h0M142 153h0M142 154h0M142 155h0M142 156h0M142 165h0M143 90h0M143 92h0M143 103h0M143 104h0M143 105h0M143 106h0M143 109h0M143 111h0M143 112h0M143 113h0M143 114h0M143 115h0M143 116h0M143 117h0M143 119h0M143 120h0M143 121h0M143 122h0M143 123h0M143 124h0M143 125h0M143 127h0M143 130h0M143 131h0M143 136h0M143 138h0M143 139h0M143 141h0M143 142h0M143 143h0M143 145h0M143 147h0M143 149h0M143 150h0M143 151h0M143 152h0M143 154h0M143 155h0M143 157h0M143 159h0M143 160h0M143 162h0M143 165h0M143 192h0M144 65h0M144 78h0M144 79h0M144 94h0M144 100h0M144 101h0M144 102h0M144 105h0M144 106h0M144 107h0M144 109h0M144 110h0M144 111h0M144 112h0M144 114h0M144 115h0M144 116h0M144 117h0M144 118h0M144 120h0M144 121h0M144 122h0M144 123h0M144 124h0M144 126h0M144 128h0M144 129h0M144 130h0M144 132h0M144 134h0M144 135h0M144 137h0M144 138h0M144 140h0M144 141h0M144 142h0M144 143h0M144 144h0M144 146h0M144 147h0M144 148h0M144 149h0M144 150h0M144 152h0M144 153h0M144 155h0M144 157h0M144 158h0M144 159h0M144 160h0M144 166h0M144 169h0M144 180h0M145 101h0M145 104h0M145 106h0M145 107h0M145 110h0M145 111h0M145 113h0M145 114h0M145 115h0M145 116h0M145 117h0M145 118h0M145 119h0M145 120h0M145 123h0M145 124h0M145 125h0M145 133h0M145 134h0M145 136h0M145 138h0M145 139h0M145 140h0M145 142h0M145 143h0M145 144h0M145 145h0M145 148h0M145 149h0M145 150h0M145 151h0M145 153h0M145 154h0M145 155h0M145 156h0M146 93h0M146 95h0M146 98h0M146 100h0M146 104h0M146 107h0M146 108h0M146 112h0M146 113h0M146 116h0M146 123h0M146 125h0M146 128h0M146 131h0M146 132h0M146 134h0M146 135h0M146 136h0M146 137h0M146 139h0M146 140h0M146 141h0M146 145h0M146 146h0M146 148h0M146 149h0M146 150h0M146 151h0M146 154h0M146 155h0M146 156h0M146 157h0M146 158h0M146 162h0M146 168h0M147 58h0M147 86h0M147 90h0M147 94h0M147 106h0M147 108h0M147 109h0M147 110h0M147 113h0M147 114h0M147 115h0M147 117h0M147 118h0M147 121h0M147 122h0M147 124h0M147 126h0M147 134h0M147 138h0M147 139h0M147 142h0M147 143h0M147 147h0M147 148h0M147 149h0M147 150h0M147 151h0M147 152h0M147 157h0M147 162h0M147 163h0M147 166h0M148 94h0M148 106h0M148 109h0M148 111h0M148 115h0M148 119h0M148 121h0M148 122h0M148 123h0M148 125h0M148 127h0M148 128h0M148 131h0M148 132h0M148 134h0M148 136h0M148 137h0M148 139h0M148 140h0M148 141h0M148 143h0M148 145h0M148 152h0M148 154h0M148 158h0M148 162h0M149 100h0M149 103h0M149 109h0M149 113h0M149 124h0M149 126h0M149 127h0M149 128h0M149 133h0M149 135h0M149 136h0M149 137h0M149 139h0M149 142h0M149 143h0M149 144h0M149 147h0M149 157h0M149 160h0M150 90h0M150 112h0M150 123h0M150 126h0M150 127h0M150 128h0M150 131h0M150 142h0M150 145h0M150 147h0M150 149h0M150 151h0M150 159h0M151 34h0M151 110h0M151 111h0M151 112h0M151 115h0M151 118h0M151 121h0M151 127h0M151 128h0M151 130h0M151 131h0M151 140h0M151 141h0M151 145h0M151 150h0M151 156h0M152 103h0M152 107h0M152 108h0M152 112h0M152 122h0M152 129h0M152 142h0M152 146h0M152 156h0M152 160h0M152 163h0M153 103h0M153 104h0M153 113h0M153 115h0M153 116h0M153 123h0M153 131h0M153 136h0M153 140h0M153 146h0M153 150h0M153 153h0M154 102h0M154 108h0M154 115h0M154 119h0M154 121h0M154 131h0M154 133h0M154 134h0M154 138h0M154 151h0M154 153h0M154 159h0M155 96h0M155 101h0M155 107h0M155 108h0M155 110h0M155 116h0M155 133h0M155 136h0M155 138h0M155 143h0M155 147h0M155 149h0M155 154h0M156 119h0M156 125h0M156 133h0M156 138h0M156 143h0M156 145h0M156 156h0M156 167h0M156 194h0M157 99h0M157 113h0M157 115h0M157 118h0M157 125h0M157 130h0M157 132h0M157 134h0M157 151h0M157 153h0M157 155h0M158 110h0M158 115h0M158 118h0M158 125h0M158 127h0M158 147h0M158 150h0M158 152h0M159 109h0M159 111h0M159 115h0M159 118h0M159 123h0M159 126h0M159 142h0M159 147h0M159 149h0M159 152h0M159 153h0M159 155h0M160 94h0M160 104h0M160 112h0M160 120h0M160 123h0M160 127h0M160 131h0M160 134h0M160 135h0M160 137h0M160 139h0M160 147h0M160 149h0M160 152h0M160 163h0M160 186h0M161 102h0M161 104h0M161 108h0M161 114h0M161 118h0M161 121h0M161 129h0M161 135h0M161 144h0M161 152h0M162 107h0M162 133h0M162 142h0M162 151h0M163 101h0M163 103h0M163 111h0M163 112h0M163 116h0M163 120h0M163 124h0M163 125h0M163 129h0M163 138h0M163 147h0M163 148h0M163 153h0M163 156h0M164 125h0M164 128h0M164 131h0M164 135h0M164 139h0M164 140h0M164 146h0M164 149h0M165 122h0M165 133h0M165 143h0M165 154h0M165 164h0M166 118h0M166 131h0M166 134h0M167 125h0M167 132h0M167 146h0M167 149h0M168 115h0M168 121h0M168 135h0M168 141h0M169 124h0M169 136h0M169 140h0M170 116h0M170 117h0M171 103h0M171 128h0M171 145h0M172 114h0M172 121h0M173 125h0M173 138h0M174 121h0M174 130h0M174 146h0M176 126h0M176 132h0M177 130h0M178 106h0M178 117h0M178 137h0M178 161h0M179 95h0M179 118h0M180 119h0M180 135h0M181 90h0M181 113h0M181 131h0M183 190h0M184 170h0M185 130h0M186 187h0M187 103h0M187 106h0M187 139h0M189 104h0M189 193h0M191 106h0" stroke="#000" stroke-width="2.0" stroke-linecap="square" fill="none"/>
<rect x="42" y="11.5" width="110" height="4"/>
<path d="M50 199.5V156l2-3 2 1.5 2-2.5 3 2 2-1 2 2 1.5 1V199.5Z"/>
<path d="M78.5 103L88 91L104 87L143 88.5L159.5 93L171.5 124L172.5 141L167 157.5L158.5 167L140 172.5L92 176L78.5 163Z" fill="none" stroke="#000" stroke-width="1.8"/>
<rect x="41.6" y="11.6" width="2" height="190.3"/>
<rect x="42.6" y="11.6" width="195" height="2"/>
<rect x="235.6" y="11.6" width="2" height="190.3"/>
<rect x="42.6" y="199.9" width="194" height="2"/>
<path d="M43.3 201.7v6.5M81.6 201.7v6.5M120 201.7v6.5M155.9 201.7v6.5M193.5 201.7v6.5M229.9 201.7v6.5M51.5 201.7v3.2M59.6 201.7v3.2M67.8 201.7v3.2M76 201.7v3.2M84.2 201.7v3.2M92.4 201.7v3.2M100.5 201.7v3.2M108.7 201.7v3.2M116.9 201.7v3.2M124.8 201.7v3.2M132.4 201.7v3.2M140.1 201.7v3.2M147.8 201.7v3.2M155.4 201.7v3.2M163.4 201.7v3.2M171.4 201.7v3.2M179.5 201.7v3.2M187.5 201.7v3.2M195.4 201.7v3.2M203.2 201.7v3.2M211 201.7v3.2M218.7 201.7v3.2M226.5 201.7v3.2" stroke="#000" stroke-width="1.6" fill="none"/>
<path d="M41.8 199.9h-6.5M41.8 163.6h-6.5M41.8 127.3h-6.5M41.8 90.9h-6.5M41.8 54.6h-6.5M41.8 18.3h-6.5M41.8 192.2h-3.2M41.8 184.4h-3.2M41.8 176.7h-3.2M41.8 168.9h-3.2M41.8 161.2h-3.2M41.8 153.4h-3.2M41.8 145.7h-3.2M41.8 137.9h-3.2M41.8 130.2h-3.2M41.8 122.4h-3.2M41.8 114.7h-3.2M41.8 106.9h-3.2M41.8 99.2h-3.2M41.8 91.4h-3.2M41.8 83.7h-3.2M41.8 75.9h-3.2M41.8 68.2h-3.2M41.8 60.4h-3.2M41.8 52.7h-3.2M41.8 44.9h-3.2M41.8 37.2h-3.2M41.8 29.4h-3.2M41.8 21.7h-3.2" stroke="#000" stroke-width="1.6" fill="none"/>
<text x="44.3" y="220.6" font-size="14" font-weight="bold" text-anchor="middle" font-family='"Liberation Sans", sans-serif' >0</text>
<text x="81.6" y="220.6" font-size="14" font-weight="bold" text-anchor="middle" font-family='"Liberation Sans", sans-serif' >200</text>
<text x="120" y="220.6" font-size="14" font-weight="bold" text-anchor="middle" font-family='"Liberation Sans", sans-serif' >400</text>
<text x="155.9" y="220.6" font-size="14" font-weight="bold" text-anchor="middle" font-family='"Liberation Sans", sans-serif' >600</text>
<text x="193.5" y="220.6" font-size="14" font-weight="bold" text-anchor="middle" font-family='"Liberation Sans", sans-serif' >800</text>
<text x="229.9" y="220.6" font-size="14" font-weight="bold" text-anchor="middle" font-family='"Liberation Sans", sans-serif' >1000</text>
<text transform="translate(29.8 199.9) rotate(-90)" x="0" y="0" font-size="14" font-weight="bold" text-anchor="middle" font-family='"Liberation Sans", sans-serif' >0</text>
<text transform="translate(29.8 163.6) rotate(-90)" x="0" y="0" font-size="14" font-weight="bold" text-anchor="middle" font-family='"Liberation Sans", sans-serif' >200</text>
<text transform="translate(29.8 127.3) rotate(-90)" x="0" y="0" font-size="14" font-weight="bold" text-anchor="middle" font-family='"Liberation Sans", sans-serif' >400</text>
<text transform="translate(29.8 90.9) rotate(-90)" x="0" y="0" font-size="14" font-weight="bold" text-anchor="middle" font-family='"Liberation Sans", sans-serif' >600</text>
<text transform="translate(29.8 54.6) rotate(-90)" x="0" y="0" font-size="14" font-weight="bold" text-anchor="middle" font-family='"Liberation Sans", sans-serif' >800</text>
<text transform="translate(29.8 18.3) rotate(-90)" x="0" y="0" font-size="14" font-weight="bold" text-anchor="middle" font-family='"Liberation Sans", sans-serif' >1000</text>
<text x="136" y="237.6" font-size="14.5" font-weight="bold" text-anchor="middle" font-family='"Liberation Sans", sans-serif' textLength="42.6" lengthAdjust="spacingAndGlyphs">FSC-H</text>
<text transform="translate(15.6 107.9) rotate(-90)" x="0" y="0" font-size="13.2" font-weight="bold" text-anchor="middle" font-family='"Liberation Sans", sans-serif' textLength="42" lengthAdjust="spacingAndGlyphs">SSC-H</text>
<text x="195.6" y="41.2" font-size="18.5" font-weight="normal" text-anchor="middle" font-family='"Liberation Sans", sans-serif' stroke="#000" stroke-width="0.4" textLength="60.5" lengthAdjust="spacing">ARK-B</text>
<path d="M44 309h0M45 361h0M45 448h0M46 387h0M46 427h0M46 429h0M46 452h0M47 372h0M48 434h0M49 325h0M49 380h0M49 415h0M49 428h0M49 445h0M50 346h0M50 380h0M50 393h0M50 399h0M50 426h0M50 430h0M50 437h0M51 323h0M51 364h0M51 368h0M51 434h0M51 438h0M51 440h0M52 345h0M52 356h0M52 391h0M52 421h0M52 428h0M52 439h0M53 317h0M53 349h0M53 354h0M53 364h0M53 371h0M53 374h0M53 405h0M53 407h0M53 420h0M53 427h0M53 437h0M54 365h0M54 384h0M54 425h0M54 431h0M54 438h0M54 447h0M54 450h0M55 339h0M55 359h0M55 372h0M55 413h0M55 416h0M55 417h0M55 420h0M55 436h0M55 439h0M55 457h0M56 297h0M56 338h0M56 345h0M56 355h0M56 369h0M56 374h0M56 395h0M56 420h0M56 421h0M56 424h0M56 425h0M56 442h0M56 443h0M57 305h0M57 343h0M57 345h0M57 385h0M57 401h0M57 406h0M57 416h0M57 433h0M57 434h0M57 443h0M58 312h0M58 346h0M58 367h0M58 378h0M58 379h0M58 383h0M58 396h0M58 400h0M58 404h0M58 425h0M58 426h0M58 440h0M58 445h0M59 284h0M59 286h0M59 293h0M59 352h0M59 355h0M59 357h0M59 363h0M59 364h0M59 368h0M59 402h0M59 408h0M59 418h0M59 425h0M59 427h0M59 435h0M60 302h0M60 343h0M60 349h0M60 354h0M60 382h0M60 399h0M60 402h0M60 405h0M60 413h0M60 439h0M60 454h0M61 337h0M61 369h0M61 375h0M61 380h0M61 388h0M61 428h0M61 437h0M61 438h0M61 442h0M62 343h0M62 352h0M62 356h0M62 378h0M62 379h0M62 384h0M62 393h0M62 400h0M62 412h0M62 415h0M62 417h0M62 419h0M62 436h0M63 338h0M63 339h0M63 356h0M63 359h0M63 372h0M63 374h0M63 375h0M63 380h0M63 415h0M63 438h0M63 442h0M63 446h0M63 447h0M63 449h0M63 455h0M63 474h0M64 312h0M64 323h0M64 344h0M64 356h0M64 362h0M64 391h0M64 439h0M64 441h0M65 304h0M65 340h0M65 350h0M65 354h0M65 361h0M65 371h0M65 375h0M65 381h0M65 395h0M65 399h0M65 408h0M65 409h0M65 411h0M65 431h0M65 433h0M65 435h0M65 468h0M65 472h0M66 321h0M66 342h0M66 346h0M66 374h0M66 375h0M66 384h0M66 400h0M66 403h0M66 413h0M66 438h0M66 440h0M66 443h0M66 444h0M66 469h0M67 341h0M67 345h0M67 357h0M67 372h0M67 379h0M67 385h0M67 388h0M67 389h0M67 393h0M67 403h0M67 408h0M67 414h0M67 426h0M67 431h0M67 443h0M67 445h0M67 461h0M67 472h0M68 302h0M68 359h0M68 370h0M68 387h0M68 393h0M68 397h0M68 406h0M68 414h0M68 421h0M68 446h0M68 459h0M68 470h0M68 473h0M69 292h0M69 335h0M69 359h0M69 362h0M69 365h0M69 366h0M69 389h0M69 407h0M69 413h0M69 423h0M70 288h0M70 342h0M70 349h0M70 350h0M70 365h0M70 366h0M70 369h0M70 376h0M70 396h0M70 407h0M70 411h0M70 413h0M70 422h0M70 436h0M71 296h0M71 303h0M71 342h0M71 346h0M71 358h0M71 361h0M71 369h0M71 370h0M71 389h0M71 390h0M71 400h0M71 404h0M71 418h0M71 420h0M71 427h0M71 429h0M71 431h0M71 464h0M71 468h0M72 300h0M72 340h0M72 349h0M72 360h0M72 369h0M72 371h0M72 378h0M72 396h0M72 404h0M72 419h0M72 422h0M72 438h0M72 458h0M72 470h0M73 288h0M73 332h0M73 333h0M73 349h0M73 352h0M73 354h0M73 363h0M73 366h0M73 368h0M73 377h0M73 380h0M73 386h0M73 391h0M73 394h0M73 397h0M73 399h0M73 408h0M73 409h0M73 410h0M73 413h0M73 422h0M73 423h0M73 425h0M73 447h0M73 449h0M73 453h0M73 466h0M73 467h0M73 472h0M74 284h0M74 349h0M74 350h0M74 364h0M74 373h0M74 374h0M74 379h0M74 380h0M74 385h0M74 404h0M74 406h0M74 407h0M74 418h0M74 445h0M74 467h0M74 471h0M75 366h0M75 367h0M75 380h0M75 384h0M75 388h0M75 392h0M75 394h0M75 395h0M75 406h0M75 417h0M75 424h0M75 438h0M75 458h0M76 306h0M76 339h0M76 358h0M76 362h0M76 372h0M76 373h0M76 380h0M76 381h0M76 383h0M76 392h0M76 395h0M76 399h0M76 401h0M76 408h0M76 416h0M76 418h0M76 427h0M76 435h0M76 440h0M76 450h0M76 451h0M76 453h0M76 454h0M76 457h0M76 461h0M76 466h0M77 289h0M77 321h0M77 330h0M77 359h0M77 366h0M77 370h0M77 378h0M77 384h0M77 388h0M77 393h0M77 396h0M77 403h0M77 414h0M77 417h0M77 420h0M77 433h0M77 439h0M77 463h0M77 467h0M78 302h0M78 328h0M78 346h0M78 350h0M78 357h0M78 359h0M78 361h0M78 365h0M78 378h0M78 379h0M78 384h0M78 385h0M78 387h0M78 389h0M78 398h0M78 403h0M78 417h0M78 426h0M78 431h0M78 438h0M78 448h0M78 451h0M78 455h0M78 457h0M78 469h0M78 473h0M79 293h0M79 308h0M79 322h0M79 335h0M79 343h0M79 346h0M79 357h0M79 365h0M79 370h0M79 372h0M79 375h0M79 379h0M79 380h0M79 383h0M79 384h0M79 386h0M79 387h0M79 389h0M79 390h0M79 396h0M79 397h0M79 399h0M79 403h0M79 407h0M79 408h0M79 409h0M79 412h0M79 417h0M79 420h0M79 439h0M79 454h0M79 462h0M80 306h0M80 338h0M80 344h0M80 352h0M80 357h0M80 364h0M80 371h0M80 372h0M80 382h0M80 386h0M80 388h0M80 389h0M80 397h0M80 398h0M80 403h0M80 404h0M80 409h0M80 420h0M80 445h0M80 446h0M80 449h0M80 450h0M80 459h0M80 469h0M81 319h0M81 324h0M81 326h0M81 335h0M81 337h0M81 354h0M81 359h0M81 366h0M81 368h0M81 369h0M81 373h0M81 385h0M81 393h0M81 401h0M81 402h0M81 403h0M81 412h0M81 413h0M81 416h0M81 418h0M81 445h0M81 457h0M81 459h0M81 467h0M82 295h0M82 341h0M82 343h0M82 344h0M82 347h0M82 348h0M82 357h0M82 360h0M82 364h0M82 365h0M82 376h0M82 382h0M82 383h0M82 385h0M82 387h0M82 388h0M82 390h0M82 397h0M82 401h0M82 402h0M82 403h0M82 408h0M82 409h0M82 412h0M82 415h0M82 419h0M82 425h0M82 444h0M83 298h0M83 310h0M83 332h0M83 347h0M83 348h0M83 349h0M83 352h0M83 354h0M83 359h0M83 361h0M83 364h0M83 365h0M83 370h0M83 378h0M83 381h0M83 383h0M83 384h0M83 385h0M83 387h0M83 390h0M83 392h0M83 393h0M83 394h0M83 395h0M83 396h0M83 399h0M83 406h0M83 418h0M83 421h0M83 468h0M84 307h0M84 312h0M84 330h0M84 331h0M84 344h0M84 354h0M84 360h0M84 364h0M84 365h0M84 367h0M84 372h0M84 378h0M84 380h0M84 382h0M84 384h0M84 388h0M84 395h0M84 396h0M84 401h0M84 402h0M84 410h0M84 411h0M84 415h0M84 426h0M84 439h0M85 319h0M85 324h0M85 328h0M85 333h0M85 335h0M85 336h0M85 337h0M85 341h0M85 343h0M85 353h0M85 366h0M85 367h0M85 368h0M85 379h0M85 380h0M85 388h0M85 390h0M85 395h0M85 396h0M85 400h0M85 403h0M85 412h0M85 417h0M85 421h0M85 423h0M86 287h0M86 309h0M86 319h0M86 321h0M86 330h0M86 334h0M86 337h0M86 357h0M86 363h0M86 365h0M86 368h0M86 371h0M86 372h0M86 373h0M86 374h0M86 376h0M86 386h0M86 387h0M86 388h0M86 389h0M86 391h0M86 392h0M86 393h0M86 395h0M86 399h0M86 402h0M86 403h0M86 405h0M86 406h0M86 407h0M86 409h0M86 416h0M86 417h0M86 448h0M86 470h0M87 305h0M87 306h0M87 314h0M87 330h0M87 334h0M87 340h0M87 341h0M87 348h0M87 353h0M87 377h0M87 379h0M87 380h0M87 382h0M87 383h0M87 384h0M87 385h0M87 388h0M87 392h0M87 394h0M87 395h0M87 397h0M87 399h0M87 401h0M87 412h0M87 416h0M87 418h0M87 419h0M87 424h0M87 428h0M87 435h0M87 441h0M87 466h0M88 337h0M88 339h0M88 353h0M88 368h0M88 374h0M88 376h0M88 377h0M88 384h0M88 386h0M88 395h0M88 397h0M88 401h0M88 405h0M88 409h0M88 411h0M88 425h0M88 426h0M88 430h0M88 446h0M89 302h0M89 304h0M89 312h0M89 316h0M89 323h0M89 328h0M89 332h0M89 337h0M89 344h0M89 345h0M89 346h0M89 348h0M89 361h0M89 362h0M89 363h0M89 364h0M89 366h0M89 376h0M89 378h0M89 379h0M89 381h0M89 391h0M89 392h0M89 393h0M89 394h0M89 396h0M89 398h0M89 401h0M89 402h0M89 405h0M89 406h0M89 409h0M89 411h0M89 414h0M89 416h0M89 418h0M89 425h0M89 427h0M89 429h0M89 430h0M89 457h0M90 305h0M90 312h0M90 327h0M90 331h0M90 332h0M90 339h0M90 340h0M90 344h0M90 346h0M90 348h0M90 349h0M90 351h0M90 352h0M90 355h0M90 358h0M90 359h0M90 368h0M90 377h0M90 378h0M90 379h0M90 386h0M90 387h0M90 390h0M90 391h0M90 394h0M90 395h0M90 400h0M90 401h0M90 402h0M90 406h0M90 409h0M90 423h0M90 425h0M90 428h0M90 429h0M90 439h0M90 442h0M90 443h0M90 453h0M90 471h0M91 298h0M91 317h0M91 318h0M91 319h0M91 321h0M91 328h0M91 329h0M91 330h0M91 338h0M91 348h0M91 352h0M91 354h0M91 358h0M91 366h0M91 367h0M91 373h0M91 375h0M91 377h0M91 379h0M91 380h0M91 381h0M91 382h0M91 387h0M91 390h0M91 392h0M91 395h0M91 397h0M91 398h0M91 399h0M91 407h0M91 408h0M91 413h0M91 416h0M91 417h0M91 431h0M91 438h0M91 440h0M91 450h0M92 312h0M92 316h0M92 317h0M92 321h0M92 323h0M92 345h0M92 357h0M92 360h0M92 362h0M92 363h0M92 364h0M92 366h0M92 371h0M92 373h0M92 376h0M92 378h0M92 381h0M92 387h0M92 389h0M92 390h0M92 393h0M92 396h0M92 398h0M92 400h0M92 403h0M92 404h0M92 405h0M92 407h0M92 413h0M92 423h0M92 439h0M92 451h0M93 297h0M93 301h0M93 303h0M93 305h0M93 306h0M93 310h0M93 313h0M93 323h0M93 325h0M93 329h0M93 335h0M93 336h0M93 341h0M93 350h0M93 353h0M93 358h0M93 361h0M93 364h0M93 367h0M93 368h0M93 373h0M93 374h0M93 378h0M93 379h0M93 380h0M93 381h0M93 386h0M93 391h0M93 395h0M93 396h0M93 397h0M93 401h0M93 404h0M93 409h0M93 418h0M93 431h0M93 433h0M93 449h0M93 465h0M94 287h0M94 289h0M94 308h0M94 323h0M94 324h0M94 326h0M94 327h0M94 330h0M94 333h0M94 334h0M94 337h0M94 342h0M94 343h0M94 353h0M94 354h0M94 356h0M94 358h0M94 362h0M94 364h0M94 365h0M94 368h0M94 371h0M94 373h0M94 379h0M94 384h0M94 386h0M94 388h0M94 390h0M94 391h0M94 392h0M94 395h0M94 396h0M94 399h0M94 401h0M94 402h0M94 406h0M94 408h0M94 417h0M94 421h0M94 422h0M94 423h0M94 424h0M94 426h0M94 428h0M94 429h0M94 431h0M94 432h0M95 306h0M95 314h0M95 320h0M95 328h0M95 336h0M95 338h0M95 339h0M95 341h0M95 345h0M95 352h0M95 360h0M95 363h0M95 366h0M95 367h0M95 368h0M95 370h0M95 371h0M95 378h0M95 379h0M95 380h0M95 381h0M95 385h0M95 386h0M95 392h0M95 395h0M95 399h0M95 400h0M95 401h0M95 405h0M95 406h0M95 409h0M95 410h0M95 411h0M95 414h0M95 417h0M95 418h0M95 422h0M95 424h0M95 425h0M96 297h0M96 310h0M96 315h0M96 316h0M96 327h0M96 329h0M96 331h0M96 337h0M96 345h0M96 353h0M96 354h0M96 355h0M96 368h0M96 369h0M96 371h0M96 379h0M96 382h0M96 384h0M96 385h0M96 387h0M96 388h0M96 389h0M96 391h0M96 393h0M96 394h0M96 399h0M96 402h0M96 405h0M96 408h0M96 409h0M96 410h0M96 412h0M96 415h0M96 419h0M96 420h0M96 421h0M96 422h0M96 431h0M96 439h0M96 440h0M97 284h0M97 289h0M97 301h0M97 303h0M97 308h0M97 316h0M97 331h0M97 333h0M97 335h0M97 336h0M97 338h0M97 346h0M97 347h0M97 351h0M97 353h0M97 356h0M97 360h0M97 362h0M97 364h0M97 367h0M97 370h0M97 372h0M97 373h0M97 374h0M97 376h0M97 381h0M97 385h0M97 386h0M97 388h0M97 390h0M97 393h0M97 395h0M97 397h0M97 398h0M97 400h0M97 401h0M97 404h0M97 410h0M97 413h0M97 414h0M97 416h0M97 417h0M97 419h0M97 423h0M97 424h0M97 425h0M97 429h0M97 431h0M97 434h0M97 444h0M98 296h0M98 297h0M98 301h0M98 305h0M98 318h0M98 323h0M98 324h0M98 330h0M98 332h0M98 333h0M98 334h0M98 337h0M98 338h0M98 339h0M98 341h0M98 346h0M98 349h0M98 361h0M98 362h0M98 369h0M98 371h0M98 372h0M98 373h0M98 378h0M98 380h0M98 381h0M98 384h0M98 390h0M98 391h0M98 392h0M98 395h0M98 397h0M98 399h0M98 400h0M98 403h0M98 407h0M98 410h0M98 411h0M98 413h0M98 419h0M98 423h0M98 424h0M98 433h0M98 438h0M98 445h0M99 282h0M99 290h0M99 311h0M99 312h0M99 315h0M99 319h0M99 321h0M99 327h0M99 328h0M99 332h0M99 336h0M99 341h0M99 343h0M99 345h0M99 350h0M99 351h0M99 358h0M99 360h0M99 362h0M99 363h0M99 366h0M99 367h0M99 369h0M99 370h0M99 371h0M99 373h0M99 374h0M99 375h0M99 376h0M99 377h0M99 378h0M99 380h0M99 381h0M99 385h0M99 389h0M99 390h0M99 393h0M99 397h0M99 401h0M99 404h0M99 405h0M99 407h0M99 408h0M99 413h0M99 415h0M99 417h0M99 419h0M99 422h0M99 423h0M99 426h0M99 430h0M100 303h0M100 309h0M100 325h0M100 327h0M100 328h0M100 333h0M100 334h0M100 340h0M100 341h0M100 343h0M100 354h0M100 358h0M100 360h0M100 361h0M100 363h0M100 365h0M100 366h0M100 369h0M100 370h0M100 371h0M100 372h0M100 374h0M100 375h0M100 379h0M100 381h0M100 382h0M100 383h0M100 386h0M100 389h0M100 390h0M100 392h0M100 393h0M100 396h0M100 399h0M100 404h0M100 406h0M100 409h0M100 411h0M100 412h0M100 413h0M100 415h0M100 416h0M100 417h0M100 418h0M100 419h0M100 424h0M100 425h0M100 426h0M100 434h0M100 435h0M100 461h0M101 304h0M101 313h0M101 315h0M101 317h0M101 330h0M101 349h0M101 350h0M101 351h0M101 354h0M101 355h0M101 356h0M101 357h0M101 359h0M101 360h0M101 361h0M101 362h0M101 364h0M101 374h0M101 375h0M101 377h0M101 379h0M101 384h0M101 388h0M101 391h0M101 393h0M101 396h0M101 397h0M101 398h0M101 400h0M101 401h0M101 402h0M101 403h0M101 405h0M101 407h0M101 410h0M101 411h0M101 412h0M101 413h0M101 414h0M101 415h0M101 418h0M101 421h0M101 423h0M101 425h0M102 282h0M102 293h0M102 313h0M102 319h0M102 321h0M102 324h0M102 326h0M102 327h0M102 328h0M102 341h0M102 343h0M102 345h0M102 348h0M102 353h0M102 354h0M102 355h0M102 356h0M102 357h0M102 359h0M102 363h0M102 365h0M102 367h0M102 373h0M102 376h0M102 379h0M102 380h0M102 381h0M102 383h0M102 385h0M102 386h0M102 388h0M102 389h0M102 390h0M102 392h0M102 395h0M102 396h0M102 398h0M102 402h0M102 405h0M102 410h0M102 412h0M102 419h0M102 424h0M102 430h0M102 431h0M102 434h0M103 291h0M103 295h0M103 315h0M103 321h0M103 322h0M103 323h0M103 329h0M103 331h0M103 333h0M103 338h0M103 342h0M103 346h0M103 348h0M103 353h0M103 355h0M103 356h0M103 358h0M103 360h0M103 362h0M103 363h0M103 365h0M103 368h0M103 374h0M103 375h0M103 376h0M103 377h0M103 378h0M103 379h0M103 380h0M103 381h0M103 384h0M103 385h0M103 386h0M103 387h0M103 392h0M103 393h0M103 394h0M103 396h0M103 398h0M103 400h0M103 401h0M103 410h0M103 411h0M103 412h0M103 414h0M103 415h0M103 420h0M103 424h0M103 429h0M103 430h0M103 436h0M104 294h0M104 303h0M104 306h0M104 322h0M104 323h0M104 324h0M104 326h0M104 329h0M104 330h0M104 335h0M104 339h0M104 344h0M104 347h0M104 348h0M104 351h0M104 352h0M104 354h0M104 356h0M104 363h0M104 364h0M104 365h0M104 367h0M104 368h0M104 369h0M104 374h0M104 377h0M104 379h0M104 383h0M104 384h0M104 385h0M104 386h0M104 390h0M104 393h0M104 396h0M104 398h0M104 402h0M104 403h0M104 404h0M104 405h0M104 407h0M104 411h0M104 412h0M104 413h0M104 416h0M104 417h0M104 421h0M104 422h0M104 423h0M104 424h0M104 425h0M104 426h0M104 428h0M104 433h0M104 437h0M104 440h0M104 446h0M104 453h0M105 286h0M105 291h0M105 298h0M105 300h0M105 301h0M105 308h0M105 313h0M105 314h0M105 321h0M105 323h0M105 334h0M105 335h0M105 340h0M105 342h0M105 348h0M105 352h0M105 355h0M105 358h0M105 359h0M105 361h0M105 362h0M105 364h0M105 366h0M105 368h0M105 369h0M105 370h0M105 372h0M105 373h0M105 374h0M105 377h0M105 379h0M105 381h0M105 384h0M105 387h0M105 390h0M105 394h0M105 398h0M105 400h0M105 401h0M105 410h0M105 411h0M105 412h0M105 413h0M105 414h0M105 416h0M105 421h0M105 423h0M105 427h0M105 443h0M105 445h0M105 449h0M105 453h0M106 303h0M106 326h0M106 329h0M106 331h0M106 333h0M106 341h0M106 342h0M106 345h0M106 346h0M106 348h0M106 352h0M106 356h0M106 359h0M106 360h0M106 365h0M106 366h0M106 371h0M106 376h0M106 379h0M106 382h0M106 383h0M106 384h0M106 385h0M106 386h0M106 388h0M106 389h0M106 390h0M106 391h0M106 392h0M106 395h0M106 396h0M106 398h0M106 399h0M106 400h0M106 401h0M106 405h0M106 407h0M106 408h0M106 409h0M106 414h0M106 415h0M106 416h0M106 417h0M106 419h0M106 422h0M106 428h0M106 429h0M106 436h0M106 442h0M107 289h0M107 311h0M107 314h0M107 316h0M107 320h0M107 322h0M107 327h0M107 337h0M107 342h0M107 350h0M107 354h0M107 361h0M107 363h0M107 364h0M107 365h0M107 366h0M107 374h0M107 375h0M107 377h0M107 381h0M107 382h0M107 385h0M107 387h0M107 388h0M107 389h0M107 390h0M107 391h0M107 392h0M107 393h0M107 394h0M107 397h0M107 398h0M107 399h0M107 401h0M107 403h0M107 404h0M107 407h0M107 409h0M107 410h0M107 411h0M107 413h0M107 414h0M107 418h0M107 421h0M107 422h0M107 423h0M107 424h0M107 427h0M107 431h0M108 293h0M108 297h0M108 305h0M108 308h0M108 314h0M108 320h0M108 331h0M108 336h0M108 339h0M108 343h0M108 345h0M108 347h0M108 349h0M108 354h0M108 359h0M108 365h0M108 367h0M108 368h0M108 369h0M108 370h0M108 372h0M108 374h0M108 376h0M108 380h0M108 382h0M108 383h0M108 384h0M108 385h0M108 386h0M108 391h0M108 392h0M108 394h0M108 395h0M108 396h0M108 397h0M108 399h0M108 404h0M108 407h0M108 408h0M108 412h0M108 420h0M108 421h0M108 424h0M108 425h0M108 426h0M108 428h0M108 434h0M108 436h0M109 284h0M109 304h0M109 323h0M109 329h0M109 331h0M109 335h0M109 338h0M109 343h0M109 344h0M109 350h0M109 351h0M109 352h0M109 353h0M109 357h0M109 360h0M109 363h0M109 364h0M109 368h0M109 369h0M109 374h0M109 376h0M109 381h0M109 382h0M109 384h0M109 389h0M109 390h0M109 393h0M109 396h0M109 398h0M109 399h0M109 401h0M109 402h0M109 403h0M109 408h0M109 409h0M109 412h0M109 414h0M109 419h0M109 420h0M109 425h0M109 427h0M109 430h0M109 431h0M109 433h0M109 441h0M110 311h0M110 314h0M110 332h0M110 333h0M110 338h0M110 339h0M110 343h0M110 347h0M110 355h0M110 360h0M110 361h0M110 371h0M110 375h0M110 378h0M110 379h0M110 380h0M110 381h0M110 382h0M110 386h0M110 390h0M110 391h0M110 392h0M110 394h0M110 396h0M110 403h0M110 406h0M110 409h0M110 411h0M110 412h0M110 413h0M110 414h0M110 415h0M110 418h0M110 421h0M110 422h0M110 427h0M110 437h0M110 439h0M110 441h0M111 285h0M111 289h0M111 290h0M111 292h0M111 300h0M111 313h0M111 318h0M111 325h0M111 330h0M111 332h0M111 333h0M111 336h0M111 342h0M111 343h0M111 346h0M111 348h0M111 349h0M111 351h0M111 354h0M111 357h0M111 361h0M111 362h0M111 365h0M111 366h0M111 370h0M111 373h0M111 374h0M111 375h0M111 376h0M111 380h0M111 382h0M111 383h0M111 384h0M111 385h0M111 386h0M111 388h0M111 390h0M111 392h0M111 394h0M111 395h0M111 396h0M111 397h0M111 399h0M111 400h0M111 402h0M111 403h0M111 408h0M111 411h0M111 412h0M111 414h0M111 418h0M111 424h0M111 426h0M111 429h0M111 430h0M111 440h0M111 441h0M111 444h0M112 302h0M112 303h0M112 315h0M112 317h0M112 339h0M112 346h0M112 347h0M112 350h0M112 361h0M112 367h0M112 368h0M112 369h0M112 375h0M112 379h0M112 382h0M112 383h0M112 384h0M112 391h0M112 393h0M112 394h0M112 395h0M112 401h0M112 403h0M112 407h0M112 410h0M112 412h0M112 414h0M112 418h0M112 420h0M112 421h0M112 422h0M112 426h0M112 428h0M112 434h0M112 441h0M113 285h0M113 286h0M113 305h0M113 311h0M113 314h0M113 323h0M113 327h0M113 328h0M113 330h0M113 332h0M113 340h0M113 341h0M113 352h0M113 369h0M113 370h0M113 373h0M113 375h0M113 376h0M113 380h0M113 383h0M113 385h0M113 386h0M113 387h0M113 389h0M113 395h0M113 397h0M113 399h0M113 400h0M113 401h0M113 404h0M113 405h0M113 406h0M113 407h0M113 411h0M113 413h0M113 418h0M113 422h0M113 423h0M113 427h0M113 430h0M113 433h0M113 438h0M113 439h0M114 282h0M114 285h0M114 289h0M114 295h0M114 303h0M114 317h0M114 321h0M114 332h0M114 336h0M114 337h0M114 349h0M114 352h0M114 353h0M114 363h0M114 364h0M114 367h0M114 369h0M114 371h0M114 372h0M114 375h0M114 380h0M114 384h0M114 385h0M114 388h0M114 390h0M114 391h0M114 394h0M114 395h0M114 397h0M114 401h0M114 405h0M114 407h0M114 408h0M114 409h0M114 412h0M114 414h0M114 419h0M114 421h0M114 423h0M114 424h0M114 433h0M114 439h0M114 441h0M114 443h0M115 298h0M115 316h0M115 319h0M115 333h0M115 335h0M115 339h0M115 345h0M115 350h0M115 351h0M115 355h0M115 358h0M115 363h0M115 364h0M115 367h0M115 370h0M115 371h0M115 375h0M115 376h0M115 378h0M115 379h0M115 381h0M115 384h0M115 390h0M115 391h0M115 393h0M115 396h0M115 403h0M115 406h0M115 407h0M115 409h0M115 415h0M115 419h0M115 423h0M115 430h0M115 432h0M115 434h0M115 442h0M116 286h0M116 287h0M116 292h0M116 295h0M116 308h0M116 318h0M116 320h0M116 323h0M116 325h0M116 330h0M116 334h0M116 335h0M116 338h0M116 344h0M116 347h0M116 349h0M116 353h0M116 356h0M116 362h0M116 364h0M116 366h0M116 367h0M116 372h0M116 377h0M116 378h0M116 380h0M116 381h0M116 382h0M116 383h0M116 386h0M116 390h0M116 392h0M116 395h0M116 397h0M116 398h0M116 400h0M116 403h0M116 404h0M116 407h0M116 411h0M116 413h0M116 414h0M116 416h0M116 420h0M116 433h0M116 434h0M116 436h0M116 461h0M117 290h0M117 291h0M117 316h0M117 321h0M117 324h0M117 340h0M117 345h0M117 346h0M117 347h0M117 359h0M117 363h0M117 364h0M117 365h0M117 366h0M117 374h0M117 376h0M117 377h0M117 378h0M117 379h0M117 380h0M117 383h0M117 385h0M117 388h0M117 390h0M117 395h0M117 402h0M117 404h0M117 405h0M117 406h0M117 407h0M117 414h0M117 417h0M117 425h0M117 427h0M117 430h0M117 434h0M117 464h0M118 285h0M118 307h0M118 319h0M118 322h0M118 324h0M118 325h0M118 334h0M118 335h0M118 338h0M118 341h0M118 345h0M118 346h0M118 348h0M118 353h0M118 354h0M118 360h0M118 361h0M118 362h0M118 365h0M118 367h0M118 368h0M118 371h0M118 375h0M118 376h0M118 380h0M118 383h0M118 384h0M118 385h0M118 386h0M118 387h0M118 390h0M118 391h0M118 395h0M118 396h0M118 397h0M118 399h0M118 401h0M118 405h0M118 406h0M118 407h0M118 408h0M118 410h0M118 414h0M118 420h0M118 424h0M118 429h0M118 459h0M119 288h0M119 303h0M119 314h0M119 318h0M119 319h0M119 322h0M119 325h0M119 327h0M119 333h0M119 334h0M119 339h0M119 341h0M119 344h0M119 345h0M119 351h0M119 356h0M119 361h0M119 364h0M119 365h0M119 367h0M119 370h0M119 375h0M119 376h0M119 379h0M119 382h0M119 384h0M119 386h0M119 393h0M119 394h0M119 397h0M119 398h0M119 399h0M119 402h0M119 403h0M119 410h0M119 412h0M119 413h0M119 415h0M119 420h0M119 433h0M120 290h0M120 299h0M120 301h0M120 326h0M120 329h0M120 330h0M120 333h0M120 336h0M120 343h0M120 349h0M120 355h0M120 368h0M120 369h0M120 371h0M120 375h0M120 378h0M120 380h0M120 382h0M120 385h0M120 386h0M120 388h0M120 389h0M120 392h0M120 393h0M120 396h0M120 398h0M120 399h0M120 401h0M120 405h0M120 408h0M120 413h0M120 416h0M120 417h0M120 418h0M120 424h0M120 426h0M120 427h0M120 431h0M120 434h0M120 436h0M120 437h0M120 451h0M121 288h0M121 308h0M121 328h0M121 329h0M121 333h0M121 343h0M121 348h0M121 353h0M121 354h0M121 355h0M121 356h0M121 358h0M121 359h0M121 360h0M121 362h0M121 364h0M121 368h0M121 375h0M121 376h0M121 379h0M121 380h0M121 381h0M121 387h0M121 388h0M121 389h0M121 391h0M121 394h0M121 395h0M121 402h0M121 403h0M121 407h0M121 408h0M121 413h0M121 414h0M121 416h0M121 418h0M121 426h0M121 437h0M121 442h0M122 314h0M122 323h0M122 332h0M122 341h0M122 342h0M122 343h0M122 344h0M122 348h0M122 350h0M122 351h0M122 352h0M122 353h0M122 354h0M122 356h0M122 358h0M122 362h0M122 363h0M122 365h0M122 368h0M122 372h0M122 375h0M122 376h0M122 379h0M122 380h0M122 381h0M122 383h0M122 386h0M122 388h0M122 393h0M122 395h0M122 396h0M122 401h0M122 402h0M122 404h0M122 405h0M122 407h0M122 408h0M122 413h0M122 414h0M122 419h0M122 423h0M122 427h0M122 429h0M122 444h0M123 297h0M123 303h0M123 317h0M123 331h0M123 334h0M123 336h0M123 337h0M123 338h0M123 340h0M123 343h0M123 347h0M123 354h0M123 355h0M123 356h0M123 358h0M123 363h0M123 368h0M123 369h0M123 376h0M123 379h0M123 380h0M123 383h0M123 384h0M123 388h0M123 394h0M123 397h0M123 400h0M123 401h0M123 402h0M123 407h0M123 408h0M123 412h0M123 413h0M123 416h0M123 422h0M123 425h0M123 426h0M123 427h0M123 432h0M123 434h0M124 307h0M124 316h0M124 331h0M124 332h0M124 339h0M124 342h0M124 344h0M124 359h0M124 365h0M124 370h0M124 372h0M124 375h0M124 383h0M124 385h0M124 386h0M124 395h0M124 397h0M124 401h0M124 402h0M124 403h0M124 407h0M124 408h0M124 410h0M124 414h0M124 417h0M124 420h0M124 422h0M124 423h0M124 425h0M124 427h0M124 429h0M124 431h0M124 460h0M125 283h0M125 316h0M125 341h0M125 345h0M125 354h0M125 361h0M125 364h0M125 365h0M125 369h0M125 373h0M125 381h0M125 387h0M125 388h0M125 396h0M125 398h0M125 403h0M125 404h0M125 408h0M125 415h0M125 416h0M125 419h0M125 428h0M125 435h0M125 436h0M126 288h0M126 297h0M126 303h0M126 314h0M126 331h0M126 337h0M126 342h0M126 346h0M126 354h0M126 355h0M126 361h0M126 371h0M126 373h0M126 377h0M126 379h0M126 384h0M126 387h0M126 392h0M126 394h0M126 395h0M126 398h0M126 403h0M126 405h0M126 408h0M126 412h0M126 413h0M126 415h0M126 419h0M126 421h0M126 423h0M126 431h0M126 434h0M126 439h0M126 450h0M126 466h0M126 470h0M127 288h0M127 300h0M127 319h0M127 332h0M127 340h0M127 348h0M127 350h0M127 354h0M127 361h0M127 370h0M127 371h0M127 373h0M127 374h0M127 378h0M127 381h0M127 391h0M127 392h0M127 397h0M127 398h0M127 402h0M127 404h0M127 408h0M127 413h0M127 426h0M128 325h0M128 327h0M128 328h0M128 339h0M128 347h0M128 351h0M128 356h0M128 357h0M128 359h0M128 374h0M128 377h0M128 378h0M128 379h0M128 381h0M128 383h0M128 384h0M128 387h0M128 394h0M128 396h0M128 398h0M128 401h0M128 403h0M128 404h0M128 405h0M128 416h0M128 417h0M128 458h0M129 337h0M129 340h0M129 342h0M129 344h0M129 346h0M129 348h0M129 352h0M129 355h0M129 357h0M129 360h0M129 362h0M129 369h0M129 372h0M129 374h0M129 375h0M129 378h0M129 384h0M129 387h0M129 389h0M129 397h0M129 400h0M129 401h0M129 409h0M129 415h0M129 418h0M129 426h0M129 428h0M129 429h0M130 286h0M130 309h0M130 345h0M130 346h0M130 349h0M130 356h0M130 359h0M130 360h0M130 364h0M130 365h0M130 366h0M130 374h0M130 382h0M130 385h0M130 394h0M130 396h0M130 397h0M130 400h0M130 402h0M130 404h0M130 409h0M130 415h0M130 416h0M130 426h0M130 427h0M131 356h0M131 360h0M131 361h0M131 364h0M131 365h0M131 376h0M131 386h0M131 388h0M131 390h0M131 391h0M131 392h0M131 397h0M131 411h0M131 413h0M131 416h0M131 419h0M131 421h0M131 426h0M131 428h0M132 293h0M132 339h0M132 340h0M132 343h0M132 352h0M132 355h0M132 356h0M132 378h0M132 381h0M132 382h0M132 383h0M132 388h0M132 390h0M132 392h0M132 393h0M132 394h0M132 395h0M132 404h0M132 411h0M132 418h0M133 332h0M133 333h0M133 342h0M133 349h0M133 351h0M133 363h0M133 375h0M133 379h0M133 380h0M133 381h0M133 382h0M133 383h0M133 384h0M133 395h0M133 396h0M133 398h0M133 414h0M133 417h0M133 427h0M133 429h0M133 432h0M134 344h0M134 349h0M134 350h0M134 352h0M134 361h0M134 375h0M134 377h0M134 383h0M134 385h0M134 386h0M134 388h0M134 392h0M134 403h0M134 407h0M134 422h0M134 423h0M134 436h0M135 340h0M135 351h0M135 354h0M135 355h0M135 367h0M135 375h0M135 377h0M135 379h0M135 381h0M135 383h0M135 391h0M135 395h0M135 397h0M135 398h0M135 399h0M135 401h0M135 409h0M135 413h0M135 414h0M136 349h0M136 359h0M136 361h0M136 369h0M136 374h0M136 382h0M136 385h0M136 388h0M136 397h0M136 401h0M136 412h0M136 417h0M136 418h0M136 424h0M136 436h0M137 336h0M137 353h0M137 359h0M137 390h0M137 394h0M137 396h0M137 397h0M137 404h0M137 405h0M137 408h0M137 410h0M137 417h0M137 433h0M137 449h0M138 351h0M138 361h0M138 365h0M138 366h0M138 372h0M138 377h0M138 378h0M138 381h0M138 386h0M138 387h0M138 390h0M138 415h0M139 294h0M139 350h0M139 353h0M139 355h0M139 367h0M139 376h0M139 391h0M139 399h0M139 402h0M139 409h0M139 425h0M140 348h0M140 354h0M140 356h0M140 371h0M140 376h0M140 390h0M140 391h0M140 397h0M140 398h0M140 402h0M140 408h0M140 409h0M140 414h0M140 422h0M140 430h0M141 348h0M141 361h0M141 369h0M141 371h0M141 375h0M141 385h0M141 390h0M141 391h0M141 397h0M141 407h0M141 419h0M141 425h0M141 428h0M141 432h0M141 444h0M141 473h0M142 340h0M142 349h0M142 366h0M142 386h0M142 402h0M142 412h0M142 418h0M143 348h0M143 357h0M143 380h0M143 382h0M143 402h0M143 405h0M143 419h0M144 364h0M144 369h0M144 374h0M144 376h0M144 386h0M144 393h0M144 404h0M144 405h0M144 410h0M145 333h0M145 366h0M145 367h0M145 368h0M145 370h0M145 373h0M145 382h0M145 385h0M145 388h0M145 391h0M145 408h0M145 417h0M145 421h0M145 423h0M146 292h0M146 375h0M146 378h0M146 379h0M146 381h0M146 387h0M146 391h0M146 394h0M146 415h0M146 420h0M146 433h0M147 393h0M147 398h0M147 420h0M147 431h0M148 374h0M148 394h0M148 396h0M148 421h0M149 361h0M149 370h0M149 371h0M149 387h0M149 394h0M149 406h0M149 410h0M149 413h0M149 437h0M150 366h0M150 378h0M150 393h0M150 414h0M150 415h0M150 416h0M150 420h0M151 380h0M151 381h0M151 390h0M151 465h0M152 370h0M152 389h0M152 402h0M152 405h0M152 414h0M152 422h0M153 396h0M153 406h0M154 365h0M154 387h0M154 389h0M154 390h0M154 406h0M154 408h0M154 410h0M154 418h0M154 420h0M155 387h0M155 392h0M155 395h0M155 397h0M155 430h0M155 433h0M155 450h0M156 354h0M156 361h0M156 387h0M156 388h0M156 394h0M156 399h0M156 409h0M156 418h0M157 369h0M157 392h0M157 423h0M158 367h0M158 388h0M158 391h0M158 410h0M158 411h0M158 419h0M159 381h0M159 382h0M159 397h0M159 415h0M159 470h0M160 377h0M161 377h0M161 389h0M161 390h0M161 411h0M161 465h0M162 317h0M162 381h0M163 345h0M163 380h0M163 458h0M165 391h0M165 415h0M166 354h0M167 400h0M167 462h0M168 406h0M169 385h0M170 381h0M174 339h0M176 425h0M177 405h0M180 447h0" stroke="#000" stroke-width="2.0" stroke-linecap="square" fill="none"/>
<path d="M51.5 475V450q0-5 5-5.5h4q5 0.5 5.5 5V475Z"/>
<path d="M79 344L97.6 335.8L123 337L140 342L158 368L162.7 392L159.5 415L148 430L134 438L111 444.5L92 438L75 427L70 410L68.5 381L72 360Z" fill="none" stroke="#000" stroke-width="1.8"/>
<rect x="41.9" y="279" width="2" height="198.4"/>
<rect x="42.9" y="279" width="193.8" height="2"/>
<rect x="234.7" y="279" width="2" height="198.4"/>
<rect x="42.9" y="475.4" width="192.8" height="2"/>
<path d="M44.2 477.2v6.5M80.8 477.2v6.5M119.1 477.2v6.5M155.2 477.2v6.5M192.8 477.2v6.5M229.2 477.2v6.5M52 477.2v3.2M59.8 477.2v3.2M67.6 477.2v3.2M75.4 477.2v3.2M83.4 477.2v3.2M91.5 477.2v3.2M99.7 477.2v3.2M107.9 477.2v3.2M116 477.2v3.2M123.9 477.2v3.2M131.6 477.2v3.2M139.3 477.2v3.2M147 477.2v3.2M154.7 477.2v3.2M162.7 477.2v3.2M170.7 477.2v3.2M178.8 477.2v3.2M186.8 477.2v3.2M194.7 477.2v3.2M202.5 477.2v3.2M210.3 477.2v3.2M218 477.2v3.2M225.8 477.2v3.2" stroke="#000" stroke-width="1.6" fill="none"/>
<path d="M42.1 475.5h-6.5M42.1 437.2h-6.5M42.1 399h-6.5M42.1 360.7h-6.5M42.1 322.5h-6.5M42.1 284.2h-6.5M42.1 467.3h-3.2M42.1 459.2h-3.2M42.1 451h-3.2M42.1 442.9h-3.2M42.1 434.7h-3.2M42.1 426.5h-3.2M42.1 418.4h-3.2M42.1 410.2h-3.2M42.1 402h-3.2M42.1 393.9h-3.2M42.1 385.7h-3.2M42.1 377.6h-3.2M42.1 369.4h-3.2M42.1 361.2h-3.2M42.1 353.1h-3.2M42.1 344.9h-3.2M42.1 336.7h-3.2M42.1 328.6h-3.2M42.1 320.4h-3.2M42.1 312.3h-3.2M42.1 304.1h-3.2M42.1 295.9h-3.2M42.1 287.8h-3.2" stroke="#000" stroke-width="1.6" fill="none"/>
<text x="44.9" y="495.8" font-size="14" font-weight="bold" text-anchor="middle" font-family='"Liberation Sans", sans-serif' >0</text>
<text x="80.8" y="495.8" font-size="14" font-weight="bold" text-anchor="middle" font-family='"Liberation Sans", sans-serif' >200</text>
<text x="119.1" y="495.8" font-size="14" font-weight="bold" text-anchor="middle" font-family='"Liberation Sans", sans-serif' >400</text>
<text x="155.2" y="495.8" font-size="14" font-weight="bold" text-anchor="middle" font-family='"Liberation Sans", sans-serif' >600</text>
<text x="192.8" y="495.8" font-size="14" font-weight="bold" text-anchor="middle" font-family='"Liberation Sans", sans-serif' >800</text>
<text x="229.2" y="495.8" font-size="14" font-weight="bold" text-anchor="middle" font-family='"Liberation Sans", sans-serif' >1000</text>
<text transform="translate(30.5 475.5) rotate(-90)" x="0" y="0" font-size="14" font-weight="bold" text-anchor="middle" font-family='"Liberation Sans", sans-serif' >0</text>
<text transform="translate(30.5 437.2) rotate(-90)" x="0" y="0" font-size="14" font-weight="bold" text-anchor="middle" font-family='"Liberation Sans", sans-serif' >200</text>
<text transform="translate(30.5 399) rotate(-90)" x="0" y="0" font-size="14" font-weight="bold" text-anchor="middle" font-family='"Liberation Sans", sans-serif' >400</text>
<text transform="translate(30.5 360.7) rotate(-90)" x="0" y="0" font-size="14" font-weight="bold" text-anchor="middle" font-family='"Liberation Sans", sans-serif' >600</text>
<text transform="translate(30.5 322.5) rotate(-90)" x="0" y="0" font-size="14" font-weight="bold" text-anchor="middle" font-family='"Liberation Sans", sans-serif' >800</text>
<text transform="translate(30.5 284.2) rotate(-90)" x="0" y="0" font-size="14" font-weight="bold" text-anchor="middle" font-family='"Liberation Sans", sans-serif' >1000</text>
<text x="137.5" y="512.6" font-size="14.5" font-weight="bold" text-anchor="middle" font-family='"Liberation Sans", sans-serif' textLength="42.6" lengthAdjust="spacingAndGlyphs">FSC-H</text>
<text transform="translate(15 379.4) rotate(-90)" x="0" y="0" font-size="13.2" font-weight="bold" text-anchor="middle" font-family='"Liberation Sans", sans-serif' textLength="42" lengthAdjust="spacingAndGlyphs">SSC-H</text>
<text x="188" y="308" font-size="18.3" font-weight="normal" text-anchor="middle" font-family='"Liberation Sans", sans-serif' stroke="#000" stroke-width="0.4" letter-spacing="0.8">ARP-1</text>
<polygon points="321.0,202.0 321.0,159.6 322.8,159.6 322.8,158.6 324.6,158.6 324.6,156.7 326.4,156.7 326.4,154.5 328.2,154.5 328.2,156.0 330.0,156.0 330.0,152.4 331.8,152.4 331.8,145.5 333.6,145.5 333.6,133.5 335.4,133.5 335.4,122.2 337.2,122.2 337.2,115.1 339.0,115.1 339.0,105.2 340.8,105.2 340.8,90.5 342.6,90.5 342.6,77.3 344.4,77.3 344.4,87.0 346.2,87.0 346.2,94.9 348.0,94.9 348.0,101.8 349.8,101.8 349.8,106.0 351.6,106.0 351.6,111.9 353.4,111.9 353.4,137.1 355.2,137.1 355.2,157.2 357.0,157.2 357.0,168.7 358.8,168.7 358.8,167.8 360.6,167.8 360.6,173.2 362.4,173.2 362.4,173.7 364.2,173.7 364.2,171.2 366.0,171.2 366.0,172.0 367.8,172.0 367.8,172.8 369.6,172.8 369.6,172.2 371.4,172.2 371.4,173.2 373.2,173.2 373.2,173.5 375.0,173.5 375.0,175.5 376.8,175.5 376.8,172.8 378.6,172.8 378.6,173.6 380.4,173.6 380.4,178.0 382.2,178.0 382.2,179.7 384.0,179.7 384.0,182.1 385.8,182.1 385.8,183.5 387.6,183.5 387.6,184.7 389.4,184.7 389.4,188.3 391.2,188.3 391.2,190.3 393.0,190.3 393.0,191.1 394.8,191.1 394.8,193.2 396.6,193.2 396.6,194.4 398.4,194.4 398.4,194.4 400.2,194.4 400.2,195.9 402.0,195.9 402.0,196.7 403.8,196.7 403.8,197.4 405.6,197.4 405.6,197.2 407.4,197.2 407.4,198.4 409.2,198.4 409.2,198.8 411.0,198.8 411.0,198.5 412.8,198.5 412.8,197.6 414.6,197.6 414.6,199.2 416.4,199.2 416.4,198.3 418.2,198.3 418.2,199.7 420.0,199.7 505.0,200.0 505.0,202.0"/>
<polyline points="322.0,172.9 323.8,172.9 323.8,171.8 325.6,171.8 325.6,171.4 327.4,171.4 327.4,169.1 329.2,169.1 329.2,172.4 331.0,172.4 331.0,171.3 332.8,171.3 332.8,169.5 334.6,169.5 334.6,169.9 336.4,169.9 336.4,169.0 338.2,169.0 338.2,167.8 340.0,167.8 340.0,164.9 341.8,164.9 341.8,155.7 343.6,155.7 343.6,147.6 345.4,147.6 345.4,139.2 347.2,139.2 347.2,132.3 349.0,132.3 349.0,123.7 350.8,123.7 350.8,116.3 352.6,116.3 352.6,107.0 354.4,107.0 354.4,98.9 356.2,98.9 356.2,89.0 358.0,89.0 358.0,79.8 359.8,79.8 359.8,67.2 361.6,67.2 361.6,53.5 363.4,53.5 363.4,30.2 365.2,30.2 365.2,25.8 367.0,25.8 367.0,27.2 368.8,27.2 368.8,28.4 370.6,28.4 370.6,25.0 372.4,25.0 372.4,38.8 374.2,38.8 374.2,55.4 376.0,55.4 376.0,72.0 377.8,72.0 377.8,88.2 379.6,88.2 379.6,103.5 381.4,103.5 381.4,116.7 383.2,116.7 383.2,127.8 385.0,127.8 385.0,135.9 386.8,135.9 386.8,142.5 388.6,142.5 388.6,149.1 390.4,149.1 390.4,152.6 392.2,152.6 392.2,156.8 394.0,156.8 394.0,161.0 395.8,161.0 395.8,166.0 397.6,166.0 397.6,168.0 399.4,168.0 399.4,172.1 401.2,172.1 401.2,176.7 403.0,176.7 403.0,181.7 404.8,181.7 404.8,184.0 406.6,184.0 406.6,188.4 408.4,188.4 408.4,187.9 410.2,187.9 410.2,192.7 412.0,192.7 412.0,194.8 413.8,194.8 413.8,193.7 415.6,193.7 415.6,196.2 417.4,196.2 417.4,198.1 419.2,198.1 419.2,197.3 421.0,197.3 421.0,198.4 422.8,198.4 422.8,199.5 424.6,199.5 424.6,198.2 426.4,198.2 426.4,198.2 428.2,198.2 428.2,198.4 430.0,198.4 430.0,198.5 431.8,198.5 431.8,198.6 433.6,198.6 433.6,198.6 435.4,198.6 435.4,198.7 437.2,198.7 437.2,198.7 439.0,198.7 439.0,198.7 440.8,198.7 440.8,198.8 442.6,198.8 442.6,198.8 444.4,198.8 444.4,198.9 446.2,198.9 446.2,198.9 448.0,198.9 448.0,199.0 449.8,199.0 449.8,199.0 451.6,199.0 451.6,199.1 453.4,199.1 453.4,199.1 455.2,199.1 455.2,199.2 457.0,199.2 457.0,199.2 458.8,199.2 458.8,199.2 460.6,199.2 460.6,199.3 462.4,199.3 462.4,199.3 464.2,199.3 464.2,199.4 466.0,199.4 466.0,199.4 467.8,199.4 467.8,199.5 469.6,199.5 469.6,199.5 471.4,199.5 471.4,199.4 473.2,199.4 473.2,199.4 475.0,199.4 475.0,199.4 476.8,199.4 476.8,199.3 478.6,199.3 478.6,199.3 480.4,199.3 480.4,199.2 482.2,199.2 482.2,199.2 484.0,199.2 484.0,199.1 485.8,199.1 485.8,199.1 487.6,199.1 487.6,199.0 489.4,199.0 489.4,198.9 491.2,198.9 491.2,198.6 493.0,198.6 493.0,198.3 494.8,198.3 494.8,198.0 496.6,198.0 496.6,198.5 498.4,198.5 498.4,199.1 500.2,199.1 500.2,199.5 502.0,199.5" fill="none" stroke="#000" stroke-width="3" stroke-linejoin="miter"/>
<rect x="364" y="25.5" width="8.8" height="14"/>
<rect x="320.5" y="172.3" width="5.5" height="3.4" fill="#fff"/>
<rect x="315.2" y="12.2" width="5.8" height="191"/>
<rect x="316" y="12.2" width="190" height="2"/>
<rect x="503.8" y="12.2" width="2.1" height="191"/>
<rect x="316" y="201.3" width="189.5" height="2.4"/>
<rect x="400" y="202" width="105" height="2.4"/>
<rect x="418" y="198.6" width="87" height="5.5"/>
<path d="M318 203.6v6.5M353.9 203.6v6.5M390.4 203.6v6.5M427 203.6v6.5M462.8 203.6v6.5M497.8 203.6v6.5M323.4 203.6v3M328.8 203.6v3M334.2 203.6v3M339.6 203.6v3M345 203.6v3M350.4 203.6v3M361.2 203.6v3M366.6 203.6v3M372 203.6v3M377.4 203.6v3M382.8 203.6v3M388.2 203.6v3M393.6 203.6v3M399 203.6v3M404.4 203.6v3M409.8 203.6v3M415.2 203.6v3M420.6 203.6v3M431.4 203.6v3M436.8 203.6v3M442.2 203.6v3M447.6 203.6v3M453 203.6v3M458.4 203.6v3M469.2 203.6v3M474.6 203.6v3M480 203.6v3M485.4 203.6v3M490.8 203.6v3" stroke="#000" stroke-width="1.6" fill="none"/>
<path d="M315.6 201.3h-6.7M315.6 163.8h-6.7M315.6 126.4h-6.7M315.6 88.9h-6.7M315.6 51.5h-6.7M315.6 14h-6.7M315.6 193.8h-3.9M315.6 186.3h-3.9M315.6 178.8h-3.9M315.6 171.3h-3.9M315.6 156.3h-3.9M315.6 148.9h-3.9M315.6 141.4h-3.9M315.6 133.9h-3.9M315.6 118.9h-3.9M315.6 111.4h-3.9M315.6 103.9h-3.9M315.6 96.4h-3.9M315.6 81.4h-3.9M315.6 73.9h-3.9M315.6 66.4h-3.9M315.6 58.9h-3.9M315.6 44h-3.9M315.6 36.5h-3.9M315.6 29h-3.9M315.6 21.5h-3.9" stroke="#000" stroke-width="1.6" fill="none"/>
<text x="318" y="222.2" font-size="14" font-weight="bold" text-anchor="middle" font-family='"Liberation Sans", sans-serif' >0</text>
<text x="353.9" y="222.2" font-size="14" font-weight="bold" text-anchor="middle" font-family='"Liberation Sans", sans-serif' >200</text>
<text x="390.4" y="222.2" font-size="14" font-weight="bold" text-anchor="middle" font-family='"Liberation Sans", sans-serif' >400</text>
<text x="427" y="222.2" font-size="14" font-weight="bold" text-anchor="middle" font-family='"Liberation Sans", sans-serif' >600</text>
<text x="462.8" y="222.2" font-size="14" font-weight="bold" text-anchor="middle" font-family='"Liberation Sans", sans-serif' >800</text>
<text x="497.8" y="222.2" font-size="14" font-weight="bold" text-anchor="middle" font-family='"Liberation Sans", sans-serif' >1000</text>
<text transform="translate(304.4 201) rotate(-90)" x="0" y="0" font-size="14" font-weight="bold" text-anchor="middle" font-family='"Liberation Sans", sans-serif' >0</text>
<text transform="translate(304.4 163.5) rotate(-90)" x="0" y="0" font-size="14" font-weight="bold" text-anchor="middle" font-family='"Liberation Sans", sans-serif' >30</text>
<text transform="translate(304.4 126.1) rotate(-90)" x="0" y="0" font-size="14" font-weight="bold" text-anchor="middle" font-family='"Liberation Sans", sans-serif' >60</text>
<text transform="translate(304.4 88.6) rotate(-90)" x="0" y="0" font-size="14" font-weight="bold" text-anchor="middle" font-family='"Liberation Sans", sans-serif' >90</text>
<text transform="translate(304.4 51.2) rotate(-90)" x="0" y="0" font-size="14" font-weight="bold" text-anchor="middle" font-family='"Liberation Sans", sans-serif' >120</text>
<text transform="translate(304.4 13.7) rotate(-90)" x="0" y="0" font-size="14" font-weight="bold" text-anchor="middle" font-family='"Liberation Sans", sans-serif' >150</text>
<text x="407.1" y="240.6" font-size="14.5" font-weight="bold" text-anchor="middle" font-family='"Liberation Sans", sans-serif' textLength="39.2" lengthAdjust="spacingAndGlyphs">FL2-H</text>
<text transform="translate(288.4 111.2) rotate(-90)" x="0" y="0" font-size="13.8" font-weight="bold" text-anchor="middle" font-family='"Liberation Sans", sans-serif' textLength="46" lengthAdjust="spacingAndGlyphs">Counts</text>
<path d="M376.3 59.6L388.7 54V65.6Z"/><rect x="388" y="58.6" width="65.6" height="1.9"/>
<path d="M358 125.8L369.6 120.5V131.3Z"/><rect x="369" y="124.9" width="64" height="1.8"/>
<text x="435.3" y="48.3" font-size="19" font-weight="normal" text-anchor="middle" font-family='"Liberation Sans", sans-serif' stroke="#000" stroke-width="0.5" textLength="48" lengthAdjust="spacing">sp17</text>
<text x="449.5" y="118" font-size="15.3" font-weight="normal" text-anchor="middle" font-family='"Liberation Serif", serif' textLength="48" lengthAdjust="spacingAndGlyphs">Control</text>
<polygon points="320.0,475.0 320.0,433.2 321.8,433.2 321.8,427.1 323.6,427.1 323.6,428.7 325.4,428.7 325.4,427.8 327.2,427.8 327.2,432.8 329.0,432.8 329.0,431.2 330.8,431.2 330.8,427.7 332.6,427.7 332.6,423.3 334.4,423.3 334.4,414.6 336.2,414.6 336.2,411.9 338.0,411.9 338.0,403.3 339.8,403.3 339.8,396.1 341.6,396.1 341.6,388.3 343.4,388.3 343.4,384.1 345.2,384.1 345.2,383.8 347.0,383.8 347.0,384.3 348.8,384.3 348.8,389.0 350.6,389.0 350.6,393.8 352.4,393.8 352.4,399.2 354.2,399.2 354.2,401.2 356.0,401.2 356.0,408.6 357.8,408.6 357.8,415.0 359.6,415.0 359.6,422.9 361.4,422.9 361.4,421.6 363.2,421.6 363.2,416.3 365.0,416.3 365.0,411.2 366.8,411.2 366.8,412.2 368.6,412.2 368.6,410.0 370.4,410.0 370.4,410.3 372.2,410.3 372.2,411.9 374.0,411.9 374.0,410.6 375.8,410.6 375.8,409.3 377.6,409.3 377.6,408.4 379.4,408.4 379.4,423.4 381.2,423.4 381.2,432.9 383.0,432.9 383.0,442.4 384.8,442.4 384.8,443.9 386.6,443.9 386.6,451.8 388.4,451.8 388.4,454.0 390.2,454.0 390.2,455.5 392.0,455.5 392.0,459.5 393.8,459.5 393.8,462.1 395.6,462.1 395.6,462.9 397.4,462.9 397.4,463.4 399.2,463.4 399.2,465.5 401.0,465.5 401.0,466.6 402.8,466.6 402.8,469.0 404.6,469.0 404.6,469.3 406.4,469.3 406.4,469.4 408.2,469.4 408.2,470.8 410.0,470.8 410.0,470.2 411.8,470.2 411.8,470.2 413.6,470.2 413.6,472.2 415.4,472.2 415.4,472.0 417.2,472.0 417.2,472.2 419.0,472.2 419.0,472.4 420.8,472.4 420.8,472.6 422.6,472.6 422.6,472.8 424.4,472.8 424.4,473.0 426.2,473.0 426.2,473.2 428.0,473.2 428.0,473.4 429.8,473.4 429.8,473.5 430.0,473.5 503.0,474.0 503.0,476.0"/>
<polyline points="356.0,407.4 357.8,407.4 357.8,384.7 359.6,384.7 359.6,384.6 361.4,384.6 361.4,383.3 363.2,383.3 363.2,380.7 365.0,380.7 365.0,380.5 366.8,380.5 366.8,376.8 368.6,376.8 368.6,358.1 370.4,358.1 370.4,367.4 372.2,367.4 372.2,395.9 374.0,395.9 374.0,406.5 375.8,406.5 375.8,413.8 377.6,413.8 377.6,421.3 379.4,421.3 379.4,431.2 381.2,431.2 381.2,431.4 383.0,431.4 383.0,432.6 384.8,432.6 384.8,426.6 386.6,426.6 386.6,427.1 388.4,427.1 388.4,423.5 390.2,423.5 390.2,420.7 392.0,420.7 392.0,418.0 393.8,418.0 393.8,415.0 395.6,415.0 395.6,427.1 397.4,427.1 397.4,433.6 399.2,433.6 399.2,442.2 401.0,442.2 401.0,446.6 402.8,446.6 402.8,454.1 404.6,454.1 404.6,456.7 406.4,456.7 406.4,461.7 408.2,461.7 408.2,461.5 410.0,461.5 410.0,465.3 411.8,465.3 411.8,467.2 413.6,467.2 413.6,466.4 415.4,466.4 415.4,469.3 417.2,469.3 417.2,469.2 419.0,469.2 419.0,470.1 420.8,470.1 420.8,469.9 422.6,469.9 422.6,467.9 424.4,467.9 424.4,467.9 426.2,467.9 426.2,468.3 428.0,468.3 428.0,469.5 429.8,469.5 429.8,470.1 431.6,470.1 431.6,469.3 433.4,469.3 433.4,469.9 435.2,469.9 435.2,470.3 437.0,470.3 437.0,471.1 438.8,471.1 438.8,471.2 440.6,471.2 440.6,471.3 442.4,471.3 442.4,471.5 444.2,471.5 444.2,471.6 446.0,471.6 446.0,471.7 447.8,471.7 447.8,471.8 449.6,471.8 449.6,471.9 451.4,471.9 451.4,472.0 453.2,472.0 453.2,472.0 455.0,472.0 455.0,472.1 456.8,472.1 456.8,472.1 458.6,472.1 458.6,472.2 460.4,472.2 460.4,472.2 462.2,472.2 462.2,472.3 464.0,472.3 464.0,472.3 465.8,472.3 465.8,472.4 467.6,472.4 467.6,472.5 469.4,472.5 469.4,472.5 471.2,472.5 471.2,472.4 473.0,472.4 473.0,472.3 474.8,472.3 474.8,472.2 476.6,472.2 476.6,472.1 478.4,472.1 478.4,472.0 480.2,472.0 480.2,471.9 482.0,471.9 482.0,471.9 483.8,471.9 483.8,471.8 485.6,471.8 485.6,471.7 487.4,471.7 487.4,471.6 489.2,471.6 489.2,471.5 491.0,471.5 491.0,471.6 492.8,471.6 492.8,471.7 494.6,471.7 494.6,471.8 496.4,471.8 496.4,471.9 498.2,471.9 498.2,472.0 500.0,472.0" fill="none" stroke="#000" stroke-width="3" stroke-linejoin="miter"/>
<rect x="316" y="366" width="6.2" height="110"/>
<rect x="315.5" y="279.7" width="4.4" height="197"/>
<rect x="317" y="279.7" width="186" height="2.2"/>
<rect x="500.8" y="279.7" width="2.3" height="197"/>
<rect x="317" y="474.8" width="186.5" height="2"/>
<path d="M316.8 476.8v6.5M352.4 476.8v6.5M389 476.8v6.5M424.2 476.8v6.5M460.1 476.8v6.5M495.1 476.8v6.5M322.2 476.8v3M327.6 476.8v3M333 476.8v3M338.4 476.8v3M343.8 476.8v3M349.2 476.8v3M354.6 476.8v3M360 476.8v3M365.4 476.8v3M370.8 476.8v3M376.2 476.8v3M381.6 476.8v3M392.4 476.8v3M397.8 476.8v3M403.2 476.8v3M408.6 476.8v3M414 476.8v3M419.4 476.8v3M430.2 476.8v3M435.6 476.8v3M441 476.8v3M446.4 476.8v3M451.8 476.8v3M457.2 476.8v3M462.6 476.8v3M468 476.8v3M473.4 476.8v3M478.8 476.8v3M484.2 476.8v3M489.6 476.8v3" stroke="#000" stroke-width="1.6" fill="none"/>
<path d="M315.8 474.3h-7.3M315.8 435.8h-7.3M315.8 397h-7.3M315.8 357.8h-7.3M315.8 319.1h-7.3M315.8 281.2h-7.3M315.8 466.6h-4M315.8 458.9h-4M315.8 451.2h-4M315.8 443.5h-4M315.8 428h-4M315.8 420.3h-4M315.8 412.5h-4M315.8 404.8h-4M315.8 389.2h-4M315.8 381.3h-4M315.8 373.5h-4M315.8 365.6h-4M315.8 350.1h-4M315.8 342.3h-4M315.8 334.6h-4M315.8 326.8h-4M315.8 311.5h-4M315.8 303.9h-4M315.8 296.4h-4M315.8 288.8h-4" stroke="#000" stroke-width="1.6" fill="none"/>
<text x="316.8" y="494.8" font-size="14" font-weight="bold" text-anchor="middle" font-family='"Liberation Sans", sans-serif' >0</text>
<text x="352.4" y="494.8" font-size="14" font-weight="bold" text-anchor="middle" font-family='"Liberation Sans", sans-serif' >200</text>
<text x="389" y="494.8" font-size="14" font-weight="bold" text-anchor="middle" font-family='"Liberation Sans", sans-serif' >400</text>
<text x="424.2" y="494.8" font-size="14" font-weight="bold" text-anchor="middle" font-family='"Liberation Sans", sans-serif' >600</text>
<text x="460.1" y="494.8" font-size="14" font-weight="bold" text-anchor="middle" font-family='"Liberation Sans", sans-serif' >800</text>
<text x="495.1" y="494.8" font-size="14" font-weight="bold" text-anchor="middle" font-family='"Liberation Sans", sans-serif' >1000</text>
<text transform="translate(304.2 473.7) rotate(-90)" x="0" y="0" font-size="14" font-weight="bold" text-anchor="middle" font-family='"Liberation Sans", sans-serif' >0</text>
<text transform="translate(304.2 435.2) rotate(-90)" x="0" y="0" font-size="14" font-weight="bold" text-anchor="middle" font-family='"Liberation Sans", sans-serif' >30</text>
<text transform="translate(304.2 396.4) rotate(-90)" x="0" y="0" font-size="14" font-weight="bold" text-anchor="middle" font-family='"Liberation Sans", sans-serif' >60</text>
<text transform="translate(304.2 357.2) rotate(-90)" x="0" y="0" font-size="14" font-weight="bold" text-anchor="middle" font-family='"Liberation Sans", sans-serif' >90</text>
<text transform="translate(304.2 318.5) rotate(-90)" x="0" y="0" font-size="14" font-weight="bold" text-anchor="middle" font-family='"Liberation Sans", sans-serif' >120</text>
<text transform="translate(304.2 280.6) rotate(-90)" x="0" y="0" font-size="14" font-weight="bold" text-anchor="middle" font-family='"Liberation Sans", sans-serif' >150</text>
<rect x="503" y="474.3" width="13.6" height="1.3"/>
<rect x="412" y="471.2" width="90" height="6"/>
<text x="407.9" y="513.6" font-size="14.5" font-weight="bold" text-anchor="middle" font-family='"Liberation Sans", sans-serif' textLength="40.6" lengthAdjust="spacingAndGlyphs">FL2-H</text>
<text transform="translate(288 381.4) rotate(-90)" x="0" y="0" font-size="13.8" font-weight="bold" text-anchor="middle" font-family='"Liberation Sans", sans-serif' textLength="46" lengthAdjust="spacingAndGlyphs">Counts</text>
<rect x="368.5" y="357" width="3.6" height="21"/><rect x="365" y="377" width="7.5" height="7"/>
<path d="M376.2 361L387.8 355V366.7Z"/><rect x="387" y="360.3" width="64.3" height="1.9"/>
<path d="M385.7 418L396 412V424Z"/><rect x="395" y="416.6" width="65.5" height="1.8"/>
<text x="418.5" y="347" font-size="19.5" font-weight="normal" text-anchor="middle" font-family='"Liberation Sans", sans-serif' stroke="#000" stroke-width="0.5" textLength="47.5" lengthAdjust="spacing">sp17</text>
<text x="438.5" y="410.8" font-size="15.3" font-weight="normal" text-anchor="middle" font-family='"Liberation Serif", serif' textLength="48.5" lengthAdjust="spacingAndGlyphs">Control</text>
</svg>
</body></html>
